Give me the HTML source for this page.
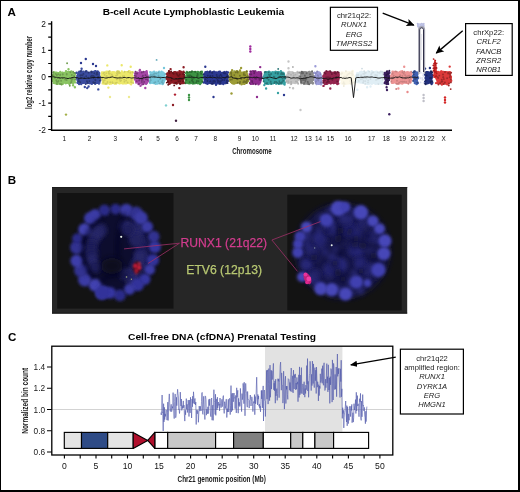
<!DOCTYPE html><html><head><meta charset="utf-8"><title>Figure</title><style>html,body{margin:0;padding:0;background:#fff}svg{display:block}</style></head><body>
<svg width="520" height="492" viewBox="0 0 520 492" font-family="Liberation Sans, Arial, sans-serif">
<defs>
<filter id="b1" x="-50%" y="-50%" width="200%" height="200%"><feGaussianBlur stdDeviation="2"/></filter>
<filter id="b1s" x="-50%" y="-50%" width="200%" height="200%"><feGaussianBlur stdDeviation="1.4"/></filter>
<filter id="b08" x="-50%" y="-50%" width="200%" height="200%"><feGaussianBlur stdDeviation="0.8"/></filter>
<filter id="b2" x="-50%" y="-50%" width="200%" height="200%"><feGaussianBlur stdDeviation="3"/></filter>
<filter id="b05" x="-50%" y="-50%" width="200%" height="200%"><feGaussianBlur stdDeviation="0.6"/></filter>
<filter id="bdot" x="-50%" y="-50%" width="200%" height="200%"><feGaussianBlur stdDeviation="0.35"/></filter>
<marker id="ah" viewBox="0 0 10 10" refX="9" refY="5" markerWidth="7" markerHeight="7" orient="auto-start-reverse" markerUnits="userSpaceOnUse"><path d="M0,0.5 L10,5 L0,9.5 z" fill="#000"/></marker>
<marker id="ah2" viewBox="0 0 10 10" refX="9" refY="5" markerWidth="9" markerHeight="8" orient="auto-start-reverse" markerUnits="userSpaceOnUse"><path d="M0,0.3 L10,5 L0,9.7 L2.2,5 z" fill="#000"/></marker>
</defs>
<rect x="0" y="0" width="520" height="492" fill="#000"/><rect x="1" y="1" width="517" height="489" fill="#fff"/>
<text x="7.6" y="16" font-size="11.6" font-weight="bold">A</text>
<text x="102.7" y="15.2" font-size="9.7" font-weight="bold" textLength="181.5" lengthAdjust="spacingAndGlyphs">B-cell Acute Lymphoblastic Leukemia</text>
<path d="M52 77.7 L53.5 72.2 L55 71.4 L56.5 71.4 L58 72 L59.5 72.1 L61 72 L62.5 71.5 L64 71.9 L65.5 71.2 L67 71.3 L68.5 70.7 L70 70.9 L71.5 72 L73 71.8 L74.5 72.4 L76 77.7 L76 77.7 L74.5 83.6 L73 84.3 L71.5 83.4 L70 83.7 L68.5 83.4 L67 83.9 L65.5 84.6 L64 83.6 L62.5 84.5 L61 83.4 L59.5 83.9 L58 84 L56.5 83.8 L55 83.2 L53.5 83 L52 77.7Z" fill="#8ac462"/>
<path d="M76 77.7 L77.6 71.7 L79.1 71.5 L80.7 72.1 L82.2 71.2 L83.8 71.7 L85.4 71.5 L86.9 71 L88.5 71.8 L90.1 71.4 L91.6 71.1 L93.2 70.7 L94.8 71.5 L96.3 71.9 L97.9 72.2 L99.4 71.6 L101 77.7 L101 77.7 L99.4 83.6 L97.9 84.1 L96.3 83.9 L94.8 84.3 L93.2 83.5 L91.6 83.7 L90.1 84.5 L88.5 84.1 L86.9 84.3 L85.4 83.7 L83.8 84.1 L82.2 83.9 L80.7 83.5 L79.1 83.2 L77.6 83.3 L76 77.7Z" fill="#3a4b9e"/>
<path d="M101 77.7 L102.5 71.6 L104 71.4 L105.5 71.4 L107 71 L108.5 71.5 L110 72 L111.5 71.2 L113 70.9 L114.5 71.6 L116 72.1 L117.5 71.9 L119 72 L120.5 71.9 L122 71.6 L123.5 72 L125 71.3 L126.5 71 L128 71.8 L129.5 71.7 L131 71.1 L132.5 72.6 L134 77.7 L134 77.7 L132.5 82.9 L131 83.2 L129.5 84.4 L128 83.8 L126.5 84.5 L125 84.5 L123.5 83.9 L122 84.5 L120.5 83.6 L119 84.4 L117.5 83.5 L116 83.9 L114.5 84.2 L113 83.7 L111.5 84.7 L110 84.3 L108.5 84.2 L107 84.6 L105.5 83.8 L104 83.8 L102.5 83 L101 77.7Z" fill="#ece86a"/>
<path d="M134 77.7 L135.5 72.1 L137 71.3 L138.5 72.1 L140 71.6 L141.5 70.8 L143 71.4 L144.5 71.2 L146 70.9 L147.5 71.2 L149 77.7 L149 77.7 L147.5 84.1 L146 84.3 L144.5 83.4 L143 84.2 L141.5 84.3 L140 84.1 L138.5 83.9 L137 83.6 L135.5 83.7 L134 77.7Z" fill="#a648a8"/>
<path d="M149 77.7 L150.5 71.9 L152.1 72 L153.6 72 L155.2 71.8 L156.7 71.6 L158.3 72.1 L159.8 72 L161.4 72.1 L162.9 71.3 L164.5 72.1 L166 77.7 L166 77.7 L164.5 83.5 L162.9 83.4 L161.4 84.5 L159.8 83.8 L158.3 83.5 L156.7 83.4 L155.2 83.5 L153.6 83.4 L152.1 84.1 L150.5 83.5 L149 77.7Z" fill="#78c8dc"/>
<path d="M166 77.7 L167.6 72 L169.2 71 L170.8 71.5 L172.3 72 L173.9 71.6 L175.5 70.9 L177.1 72.1 L178.7 71.4 L180.2 71.4 L181.8 71.4 L183.4 71.3 L185 77.7 L185 77.7 L183.4 83.9 L181.8 84.6 L180.2 83.3 L178.7 83.5 L177.1 84.6 L175.5 83.5 L173.9 83.7 L172.3 83.4 L170.8 84 L169.2 84.6 L167.6 83.1 L166 77.7Z" fill="#8c1c24"/>
<path d="M185 77.7 L186.5 72.1 L188 72 L189.5 71.4 L191 71.6 L192.5 71 L194 70.9 L195.5 71 L197 71.8 L198.5 71.6 L200 72.1 L201.5 72.1 L203 77.7 L203 77.7 L201.5 83.9 L200 83.6 L198.5 83.3 L197 84 L195.5 84.3 L194 84.4 L192.5 84.7 L191 83.6 L189.5 84.4 L188 84.3 L186.5 83.4 L185 77.7Z" fill="#3d9444"/>
<path d="M203 77.7 L204.5 71.3 L206.1 71 L207.6 70.8 L209.1 71.8 L210.6 71.8 L212.2 71.2 L213.7 70.9 L215.2 71.2 L216.8 72 L218.3 70.8 L219.8 71.1 L221.4 71.9 L222.9 71.7 L224.4 70.8 L225.9 71.7 L227.5 71.7 L229 77.7 L229 77.7 L227.5 83 L225.9 84.4 L224.4 83.8 L222.9 84.4 L221.4 84.4 L219.8 84 L218.3 84.4 L216.8 84.2 L215.2 84.4 L213.7 84 L212.2 84.6 L210.6 83.6 L209.1 83.6 L207.6 83.7 L206.1 84.5 L204.5 83.4 L203 77.7Z" fill="#2b3890"/>
<path d="M229 77.7 L230.5 72.3 L232.1 70.9 L233.6 71.9 L235.2 70.7 L236.7 71.6 L238.2 71.9 L239.8 70.7 L241.3 71.4 L242.8 71.5 L244.4 71 L245.9 71.9 L247.5 72.2 L249 77.7 L249 77.7 L247.5 83.7 L245.9 83.6 L244.4 83.6 L242.8 84.5 L241.3 84.6 L239.8 84.2 L238.2 83.3 L236.7 84.1 L235.2 84.2 L233.6 84.4 L232.1 84.3 L230.5 83.1 L229 77.7Z" fill="#9c9c36"/>
<path d="M249 77.7 L250.5 72 L252 71.9 L253.5 71.6 L255 71.3 L256.5 71.5 L258 71.4 L259.5 71.4 L261 71.7 L262.5 77.7 L262.5 77.7 L261 83.3 L259.5 83.3 L258 84 L256.5 84.6 L255 84.6 L253.5 83.9 L252 84.5 L250.5 83.7 L249 77.7Z" fill="#8e2c8e"/>
<path d="M262.5 77.7 L264.1 72.6 L265.6 72 L267.2 71.1 L268.8 71.7 L270.3 71.3 L271.9 72 L273.5 71.8 L275 71 L276.6 71.3 L278.2 70.8 L279.7 71.3 L281.3 71.4 L282.9 71.6 L284.4 71.9 L286 77.7 L286 77.7 L284.4 84.1 L282.9 83.9 L281.3 84.2 L279.7 84 L278.2 83.9 L276.6 84.4 L275 84 L273.5 83.7 L271.9 84.1 L270.3 84.4 L268.8 84 L267.2 84 L265.6 83.8 L264.1 83.9 L262.5 77.7Z" fill="#36a0a2"/>
<path d="M286 77.7 L287.6 71.3 L289.2 70.8 L290.9 71.3 L292.5 70.9 L294.1 71.9 L295.8 72 L297.4 72.2 L299 77.7 L299 77.7 L297.4 84.1 L295.8 83.6 L294.1 83.9 L292.5 83.5 L290.9 84.6 L289.2 83.6 L287.6 84.3 L286 77.7Z" fill="#c4c4c4"/>
<path d="M299 77.7 L300.5 71.3 L302 71.9 L303.5 71.2 L305 70.9 L306.5 71.8 L308 71.5 L309.5 70.7 L311 71.9 L312.5 71.7 L314 77.7 L314 77.7 L312.5 83.5 L311 83.9 L309.5 84.5 L308 84 L306.5 84.6 L305 84.7 L303.5 83.5 L302 84.3 L300.5 84.3 L299 77.7Z" fill="#8c8c8c"/>
<path d="M314 77.7 L315.7 71.9 L317.4 71.1 L319.1 71.3 L320.8 72.1 L322.5 77.7 L322.5 77.7 L320.8 83.7 L319.1 83.9 L317.4 83.3 L315.7 83.7 L314 77.7Z" fill="#9c9cd8"/>
<path d="M322.5 77.7 L324.1 71.5 L325.7 72.1 L327.3 71 L328.9 72 L330.5 72 L332 71.7 L333.6 71.5 L335.2 71 L336.8 72 L338.4 71.6 L340 77.7 L340 77.7 L338.4 84 L336.8 84.5 L335.2 83.7 L333.6 84.6 L332 83.5 L330.5 84.4 L328.9 83.7 L327.3 84.7 L325.7 84.6 L324.1 83.7 L322.5 77.7Z" fill="#94244e"/>
<path d="M340 77.7 L341.5 72.3 L343 71.2 L344.5 72 L346 71.2 L347.5 72 L349 72 L350.5 71.5 L352 71.4 L353.5 72 L355 77.7 L355 77.7 L353.5 83.2 L352 84.6 L350.5 83.8 L349 84.5 L347.5 84.5 L346 84.4 L344.5 84.6 L343 83.9 L341.5 83.1 L340 77.7Z" fill="#fcf8e8"/>
<path d="M355 77.7 L356.5 72 L358.1 72.2 L359.6 72.1 L361.1 71.7 L362.6 71 L364.2 71.4 L365.7 71.6 L367.2 71.7 L368.7 71.1 L370.3 71.8 L371.8 70.8 L373.3 71 L374.8 71.4 L376.4 71.6 L377.9 71.2 L379.4 71.7 L380.9 71.4 L382.5 72.2 L384 77.7 L384 77.7 L382.5 83.2 L380.9 83.9 L379.4 84.4 L377.9 84.6 L376.4 84 L374.8 84.5 L373.3 83.9 L371.8 83.4 L370.3 84 L368.7 84.1 L367.2 83.3 L365.7 83.3 L364.2 83.5 L362.6 83.7 L361.1 83.7 L359.6 83.5 L358.1 83.3 L356.5 83 L355 77.7Z" fill="#e0eef5"/>
<path d="M384 77.7 L385.5 72 L387 72 L388.5 71.8 L390 77.7 L390 77.7 L388.5 83.5 L387 84.3 L385.5 83.5 L384 77.7Z" fill="#3c2060"/>
<path d="M390 77.7 L391.5 72.5 L393 71 L394.5 71.7 L396 71.7 L397.5 71.9 L399 71.7 L400.5 70.7 L402 71.8 L403.5 71.7 L405 72.1 L406.5 71.4 L408 71.9 L409.5 72.2 L411 72.5 L412.5 77.7 L412.5 77.7 L411 83.4 L409.5 83.5 L408 84 L406.5 84 L405 83.8 L403.5 83.8 L402 84.7 L400.5 84.1 L399 84.6 L397.5 83.9 L396 83.9 L394.5 83.6 L393 84.1 L391.5 84 L390 77.7Z" fill="#ec9494"/>
<path d="M412.5 77.7 L414 72.1 L415.6 71.7 L417.1 71.3 L418.6 77.7 L418.6 77.7 L417.1 84 L415.6 83.6 L414 83.3 L412.5 77.7Z" fill="#4262b2"/>
<path d="M424.2 77.7 L426 71.1 L427.7 71.1 L429.5 71.6 L431.2 70.8 L433 77.7 L433 77.7 L431.2 83.5 L429.5 83.8 L427.7 84.5 L426 84.2 L424.2 77.7Z" fill="#22307e"/>
<path d="M435.5 77.7 L437 71.4 L438.5 72.1 L440 70.9 L441.5 71.1 L443 71.9 L444.5 71.4 L446 71 L447.5 71.3 L449 71.2 L450.5 72.1 L452 77.7 L452 77.7 L450.5 83 L449 84.2 L447.5 84.5 L446 84.5 L444.5 84.5 L443 84 L441.5 84.4 L440 84.2 L438.5 84.4 L437 83.9 L435.5 77.7Z" fill="#dc3a3a"/>
<path d="M55.6 75.9h0M71.7 78.5h0M66.9 80.1h0M52.7 80.9h0M64.1 78.2h0M54.1 80.6h0M54.3 74.8h0M57.3 80.8h0M63.9 76.1h0M68.2 81.2h0M67.3 72.1h0M58.4 80.9h0M65.5 76.6h0M68.4 80h0M64.4 77.2h0M55.3 82.8h0M74.9 87.3h0M63.1 81.9h0M62.8 74.6h0M74.2 74.2h0M55.8 78h0M55.6 81.8h0M72.8 80.3h0M73.1 85.3h0M62.9 75.1h0M60.4 75.3h0M52.6 80.4h0M55.3 83.2h0M73.2 75h0M61.6 84.3h0M60.8 76.8h0M53.7 72.9h0M59.1 83.4h0M58.7 77.8h0M61.1 83.7h0M71.1 79.4h0M74 78.3h0M53.7 80.5h0M69.8 79.6h0M53.7 82.9h0M63.4 75.6h0M69.4 84h0M67.6 75.1h0M61.6 73.3h0M57.3 83h0M57.6 83h0M62.9 72.9h0M54.7 75.7h0M58.1 74.5h0M72.8 80.9h0M62 78h0M60.3 71.9h0M74.7 73.3h0M67 82.5h0M58.8 74.4h0M62.8 83.7h0M72.5 77.9h0M68.8 82.9h0M66 71.1h0M73.7 81.8h0M74.8 74.8h0M56.1 78h0M74.1 80.4h0M70 77.1h0M53.5 81.1h0M73.6 79.5h0M55.5 74.5h0M68.5 69.2h0M61.4 74.1h0M52.8 75.5h0M74.5 79.4h0M63.4 74.2h0M74.5 80.1h0M53.1 77.7h0M62.2 74.5h0M73.7 76.4h0M60.3 76.7h0M57.1 81.6h0M64.1 73.8h0M59.7 81.9h0M57.6 81.1h0M74.3 77.6h0M57.7 76.6h0M74.2 73.4h0M57.5 83.9h0M53.8 72.3h0M73.1 82.6h0M75.3 82.3h0M56.8 83.4h0M53.3 79.6h0M61.1 75.5h0M52.7 75.3h0M74.4 73.2h0M57.3 75.8h0M71.3 71.5h0M73.6 73.8h0" stroke="#8ac462" stroke-width="2.4" stroke-linecap="round" fill="none"/>
<path d="M73.1 71.7h0M71.1 78.7h0M53.4 72.5h0M58.5 81h0M60.3 74.7h0M66.7 74.6h0M59.8 78.2h0M67.1 63.2h0M57.9 77.4h0M74.3 76.3h0M62.4 77.6h0M56.8 81.7h0M71.4 81.3h0M60.1 75.3h0M70.4 72.2h0M69.8 85.8h0M60 84h0M75.1 79.4h0M54.8 77.7h0M62.8 74.2h0M66.7 80h0M71.9 79.8h0M71.8 75h0M61.1 80.8h0M58.2 74.3h0M72.8 78.7h0M61.6 84.2h0M57.9 81.8h0M75.2 73.3h0M71.3 82.2h0M53.5 75.2h0M56.9 83.9h0M73.8 76.1h0M62.8 74.5h0M74.2 72.9h0M66.7 74h0M55.8 73.9h0M66.3 79.7h0M52.9 75.8h0M56.8 75.2h0M70.7 82.9h0M65.1 79.5h0M56.3 80.2h0" stroke="#6e9c4e" stroke-width="1.9" stroke-linecap="round" fill="none"/>
<path d="M83.3 75.2h0M84 78.6h0M86.5 82.5h0M85.3 73.7h0M81.4 71.2h0M86.7 81.9h0M97.6 77.2h0M77 78.3h0M98.3 72.5h0M85.4 77.8h0M83.3 78h0M79.2 77.6h0M99.6 81.6h0M99 83.5h0M77.9 82.9h0M98.1 79.2h0M80.4 81.4h0M86.2 82.3h0M81 74h0M88.9 77.9h0M98 71.8h0M94.6 71.6h0M79.4 79h0M91.5 75.1h0M90.5 76.7h0M87.2 88.1h0M91.3 77.6h0M94.8 81.4h0M80.9 82.5h0M78.8 77h0M77.6 82.7h0M94.1 81.4h0M77.9 77.7h0M99.2 73.3h0M100.3 80.2h0M81.2 84h0M99.4 82.7h0M95.4 71.2h0M80.4 82.9h0M96 73h0M98.5 74h0M88.6 86.5h0M80.9 73.3h0M92.8 82.9h0M95.3 72.6h0M91.7 75.8h0M89.8 78.8h0M79.1 84h0M86 81.6h0M100.2 78.6h0M94.8 76.9h0M94.3 71.7h0M82.6 79.5h0M90.5 79.9h0M76.6 72.7h0M91.3 76.8h0M97.9 73h0M92.1 75.8h0M85.1 74.1h0M90.6 73.8h0M87.9 72.9h0M82.4 80.1h0M91.8 82.6h0M86.2 72.6h0M84.9 79.6h0M98.9 80.6h0M98.1 71.9h0M86.3 71.1h0M95.1 71.3h0M99 73.3h0M91.1 77.8h0M96 73.4h0M83.7 71.7h0M95.2 83.7h0M87.7 80.9h0M82 72.5h0M77.5 75.7h0M93.1 82.3h0M82.9 78.4h0M95.4 78h0M91.9 83.8h0M97.5 71.5h0M82.2 80.9h0M94.4 75.4h0M84.4 74.3h0M91.6 80.2h0M99.9 77.4h0M93.2 82.4h0M93.8 78.6h0M81.6 68.8h0M98.3 89.4h0M84.8 87h0M77.6 80h0M93.2 72.5h0M96.1 81.9h0M78.2 82.3h0M99.1 72.9h0M79.3 71.7h0M95.9 79.5h0M91.6 74.4h0" stroke="#3a4b9e" stroke-width="2.4" stroke-linecap="round" fill="none"/>
<path d="M78.9 81h0M84.2 77.5h0M93.6 76h0M99.5 77.7h0M91.3 71.5h0M87 81.3h0M93.4 78.2h0M97.1 72.4h0M80.7 71.2h0M94.7 83h0M88.3 77.6h0M81 77.6h0M96.4 74.6h0M83.4 73.9h0M88.5 72.6h0M78.5 81.3h0M95.3 79.4h0M86.2 76.3h0M78.7 79.1h0M98 77.7h0M97.6 74.3h0M89.3 81.1h0M92 75.7h0M80.3 82.2h0M94.3 73.3h0M95 82.6h0M87.6 82.8h0M81.2 75.1h0M96.7 73.2h0M82.5 75.4h0M80.4 75.5h0M99.8 80.6h0M85.7 84.1h0M94.1 76.8h0M91.8 72.5h0M85.8 71.5h0M95.4 80.2h0M91.7 77.2h0M91 76.4h0M98.2 76.8h0M94.4 76.7h0M93.8 82.7h0M93.3 82.3h0M91.9 77.1h0M91.6 72.4h0" stroke="#293671" stroke-width="1.9" stroke-linecap="round" fill="none"/>
<path d="M126.5 80.5h0M109.6 76.7h0M121.4 76.5h0M131.2 73.8h0M126.3 76.2h0M132.6 72.4h0M106.7 81.4h0M118.1 72.4h0M118.8 80.6h0M121.9 82h0M114.6 83.6h0M123.4 76.3h0M105.5 83.9h0M103.4 75h0M102 76.8h0M123.8 75.7h0M108.7 80.9h0M118.4 74h0M114.1 73.9h0M126.3 81.8h0M116.5 78.5h0M132.3 76h0M127.6 81.8h0M111 78.3h0M128.1 75.8h0M110.1 76.1h0M115.2 77h0M124.6 74.8h0M111.2 77.4h0M121.9 79.8h0M131.1 84.3h0M126.5 73h0M121.7 65.2h0M131.9 79.6h0M104.8 73.2h0M126.3 75.7h0M130.3 81.4h0M129.9 79.1h0M122.9 82.9h0M128.3 73.8h0M118.5 80.9h0M129.7 78.4h0M109 73h0M103.5 77.3h0M117.2 77.7h0M129 71.3h0M116.5 78.5h0M128.3 76.1h0M132.1 72.7h0M121.8 71.5h0M123.3 83.4h0M132.8 77.8h0M130.1 71.8h0M121.5 75.6h0M113.2 77.4h0M126.1 73.9h0M115 78.4h0M110.9 82h0M117.6 74.7h0M132.6 79.5h0M112.1 75.3h0M120.2 79.5h0M102.9 80.3h0M118.9 71.8h0M101.8 74.4h0M121 79.8h0M130.5 79.1h0M121.5 80.3h0M123.3 73.9h0M116.2 81.2h0M107.4 71.6h0M130.7 79.7h0M127.8 81.4h0M109.8 75.1h0M111.7 76.8h0M131.3 72.2h0M102.9 73.2h0M119.9 83.2h0M102 76.5h0M131.4 83.6h0M114.7 72.4h0M108.4 87.6h0M105.5 78h0M129.3 76.8h0M124.9 72.9h0M126.2 80.5h0M124.8 72.2h0M124.2 77.2h0M109.7 83.8h0M102 72.5h0M127.6 72.2h0M124.8 73.3h0M117.1 71.9h0M119.9 76.9h0M106.2 81.6h0M122.1 79.4h0M113.9 81.5h0M126.6 78.6h0M103.5 83.5h0M127.9 75.5h0M132.7 81.4h0M111.4 76.8h0M113.6 80.1h0M130.1 81.6h0M101.7 75.3h0M120.3 81.9h0M102.9 81.7h0M129.2 78.6h0M128.7 81.7h0M130.7 66.7h0M108 81h0M109 79.1h0M116.4 73.8h0M125.5 81.5h0M104.4 81.6h0M109 78.7h0M129.7 78h0M120.3 73.6h0M107.3 80.3h0M119.5 76.4h0M106.3 71.8h0M113.5 72.5h0M126.6 73.2h0M112.6 73.9h0M102.7 83.4h0M117.1 78.6h0M126.4 76.7h0M126 81.9h0M109.7 71.6h0M107.3 65.4h0M116.2 83.6h0M103.6 78.9h0" stroke="#ece86a" stroke-width="2.4" stroke-linecap="round" fill="none"/>
<path d="M105.4 83.6h0M119.6 79.6h0M122.9 76.3h0M106.7 83.8h0M108.7 71.6h0M112.8 83h0M128.2 71.8h0M124.2 79.6h0M103.4 73.4h0M131.5 79.9h0M120.4 81.1h0M111.9 74.5h0M116.9 73.3h0M106.2 73.1h0M124.4 81.8h0M131.3 82.2h0M106 77h0M131.1 81.9h0M116 75.6h0M116.8 79.4h0M108.6 71.9h0M119.2 73h0M110.1 76.5h0M110.2 82.2h0M106.9 77.6h0M130.3 72.8h0M103.4 82.5h0M108.3 77.4h0M109.8 73.8h0M133.1 83h0M104.7 75h0M103.4 80.5h0M132.7 72.3h0M112.4 75.7h0M128.1 78h0M115.4 83.1h0M119.8 72.9h0M126.1 80.5h0M104.1 72.5h0M117.4 74.7h0M121.1 80.4h0M120.1 77h0M124.5 71.8h0M112.3 82.2h0M117.3 71.3h0M116.8 82.6h0M107.5 82h0M106.8 76h0M101.7 77.9h0M118 72.7h0M127.6 82.5h0M124.2 76.1h0M103.5 82.3h0M117.3 77.9h0M118.7 71.4h0M108.7 73.5h0M109.6 71.1h0M104.7 80.2h0M102.2 78.8h0" stroke="#cfcc5d" stroke-width="1.9" stroke-linecap="round" fill="none"/>
<path d="M141.8 80.4h0M146.6 83.1h0M141.5 74.8h0M140.2 72.9h0M146.5 73.1h0M144.9 73.3h0M147.5 76.3h0M146.2 78h0M147.6 81.2h0M137.9 75.5h0M148.1 81.3h0M145.8 83h0M141.7 83.7h0M138 76.7h0M139.6 70.7h0M134.9 73.4h0M145.3 83.5h0M145.8 82.7h0M135.1 79.4h0M144 74.7h0M147.4 79.2h0M141.8 76.8h0M138.6 75.1h0M136.3 78.9h0M141.7 74.6h0M142 73.1h0M136.4 75h0M138.6 80.8h0M142.1 82.2h0M142.5 79.7h0M144.4 77.2h0M143.1 77.3h0M137.9 74h0M139.9 69.9h0M137.9 78.4h0M138.5 84.1h0M145.3 88h0M146.6 72.4h0M144.7 72.5h0M147.8 80.6h0M139.3 75.8h0M143.1 82.3h0M141.7 80.9h0M145.1 77.4h0M144.4 83.2h0M146.6 71.3h0M142.7 77.7h0M142.5 76.6h0M146.6 79.1h0M140.8 77.1h0M138.6 76.3h0M139.9 75.4h0M146.3 77.7h0M137.1 75.1h0M142.5 82.2h0M147.3 75.5h0M146.2 83.7h0M140.5 85.7h0M141.5 83.2h0M142 84.3h0" stroke="#a648a8" stroke-width="2.4" stroke-linecap="round" fill="none"/>
<path d="M141.7 80.1h0M139.5 79h0M147.7 79.9h0M136 76.1h0M142.3 78.7h0M147.9 77.5h0M143.2 84.2h0M141.9 81.9h0M139 84h0M141.7 72.6h0M144.1 81.9h0M146.9 76.7h0M138.6 77.9h0M137.2 73.5h0M142.9 75.8h0M143.4 71.7h0M145.5 75.2h0M134.7 75.5h0M142.7 79.9h0M141.5 78.4h0M143.5 78.1h0M142.5 76.5h0M136.8 81.1h0M136 73.5h0M146 79.2h0M135.5 71.6h0M139.1 80.5h0" stroke="#773378" stroke-width="1.9" stroke-linecap="round" fill="none"/>
<path d="M152.3 74.6h0M163.9 78.8h0M156.7 80.2h0M163.7 78.8h0M156.5 79.3h0M150.3 83h0M154.6 83h0M154.4 79.1h0M157.4 83.6h0M155.8 80.6h0M154.5 82.7h0M162.1 74.3h0M155.3 73.6h0M154.2 78.5h0M158 76.2h0M150.6 73h0M155.1 74.3h0M154.1 74.7h0M152.1 80.4h0M153.9 82.1h0M156.6 82.1h0M152.1 75.8h0M155.6 83.8h0M164.6 77.8h0M156.8 72.8h0M153.7 83h0M155.4 74.4h0M153 82.6h0M157.7 78.3h0M161.8 76.2h0M158.6 75.2h0M151 73.6h0M154.7 79.8h0M158.5 75.9h0M154.3 72h0M153.2 72.8h0M154.1 76.4h0M161.8 82.7h0M151.7 72.6h0M160.3 79.9h0M156.1 79.8h0M153.5 82.3h0M159.5 73.5h0M164 80.7h0M150.2 72.1h0M152.7 75.1h0M150.2 75.4h0M152.4 82.1h0M160.9 74.5h0M160.4 83.4h0M154.1 71.7h0M159.2 71.7h0M151.4 81.4h0M164 68h0M160.6 76.3h0M162.7 84.1h0M164.3 80.1h0M162.7 79.4h0M150.5 80.2h0M157.7 83.4h0M161.6 71.7h0M162.3 74.6h0M164.9 79.3h0M153.5 71.9h0M156.1 73.8h0M151.8 80.4h0M153.4 74.3h0M156.6 83.5h0" stroke="#78c8dc" stroke-width="2.4" stroke-linecap="round" fill="none"/>
<path d="M154.3 82.8h0M158.5 75.5h0M158.3 81.1h0M160.1 79h0M161.7 82.1h0M154.2 75.9h0M150.6 75h0M160.7 77h0M154.7 77.3h0M152.3 75.4h0M165.3 74h0M158.5 72.5h0M156.5 73.6h0M149.7 82.5h0M159.5 83.4h0M153.6 74.4h0M150 81h0M154.3 73.6h0M163 83.3h0M162 82h0M154.8 73.5h0M154.7 76h0M155.4 82.1h0M150.3 78.5h0M162.6 80.4h0M164.5 77.6h0M152.1 75.1h0M150.9 80.1h0M156.6 59.9h0M150.2 77h0" stroke="#66aabb" stroke-width="1.9" stroke-linecap="round" fill="none"/>
<path d="M179.5 71.1h0M181.8 81.4h0M171.6 79.8h0M174.1 75.6h0M178.5 82h0M169.5 75h0M176.6 75.7h0M168.1 75.5h0M183.9 82.5h0M183.9 83.1h0M181 71.9h0M177.4 75h0M183.6 77.5h0M171.9 75.6h0M167.1 74h0M174.6 72.2h0M173.2 78.8h0M176 78.6h0M168.6 73.6h0M176.4 72.6h0M171.1 72.4h0M171.1 77.6h0M170.6 69.1h0M168 77h0M174.4 82.5h0M179.3 88.1h0M168.4 81.9h0M169.6 83.7h0M180.4 72.9h0M167.6 74.4h0M166.9 78.8h0M171.9 80.4h0M182.4 79.3h0M176.6 83.2h0M169.6 80.9h0M180.2 80.1h0M168.8 76.1h0M183.5 77.1h0M177.3 72.4h0M180.9 72.6h0M178.6 74.5h0M174.6 82.2h0M168.6 79h0M176.5 74.9h0M173.4 73h0M176.2 80.2h0M183.5 71.7h0M169.3 77.7h0M180.8 71.6h0M181.2 80.1h0M175.1 73.2h0M173.6 82.6h0M168 75.6h0M182.5 73.7h0M169.6 75.9h0M176.9 76.2h0M166.7 78.6h0M167 77.2h0M167.4 73.4h0M171.5 74.7h0M171.3 78.6h0M183.6 67.3h0M182.1 81.2h0M177.9 75.9h0M180.8 82.6h0M178.7 75.1h0M179.8 77.8h0M172.8 78.4h0M167.7 75.7h0M184.2 77.5h0M170.9 74.2h0M169 71.3h0M174.7 77h0M172 73.6h0M172 75.2h0M176.4 83.5h0" stroke="#8c1c24" stroke-width="2.4" stroke-linecap="round" fill="none"/>
<path d="M183 81.4h0M184.2 76.1h0M174.2 85.4h0M175.2 83h0M171.2 71.4h0M171.4 80.4h0M173.7 73.7h0M182 79.6h0M179.7 83.8h0M168 81.6h0M172.7 72.9h0M176.2 82.7h0M183 74.1h0M179.9 79.7h0M178.7 76h0M177.7 75.5h0M177.2 74.5h0M166.8 82.6h0M184.2 72.6h0M179.5 78.7h0M169.4 73h0M168.2 81.7h0M176.2 78.9h0M178.3 79h0M179.8 74.5h0M180.2 81.3h0M180.4 84h0M171.6 78h0M168.9 71.3h0M178.3 81.3h0M184.2 74.6h0M168.2 84.8h0M176.5 73.5h0M173.1 73.1h0" stroke="#641419" stroke-width="1.9" stroke-linecap="round" fill="none"/>
<path d="M198 83.3h0M186.1 81h0M202.1 77.7h0M191.4 81.7h0M191 83h0M197.9 72h0M192.4 80.5h0M195.1 76.5h0M201.5 79.3h0M189.8 74.6h0M189.5 73.8h0M196.4 75h0M189.2 78.6h0M200.1 82.5h0M198.2 82h0M191.2 77.5h0M188.3 80.1h0M193.2 78.7h0M189.1 82.7h0M198.7 82.5h0M200.1 84.1h0M186 73.1h0M185.8 82.4h0M198 72.4h0M197.1 72.3h0M201 80.4h0M202.1 72.2h0M198.9 73h0M192.8 77.6h0M202.2 75.6h0M187.6 77.5h0M192.8 73.5h0M188.1 80.8h0M187.5 75.8h0M201 75.8h0M201.9 82.3h0M190.2 73.4h0M186.8 72h0M192.5 78.4h0M185.8 79.8h0M194.7 78.3h0M202.1 82h0M192.3 75.3h0M201.9 76.4h0M192.5 73h0M185.7 78.9h0M189.9 79.2h0M189.6 73.7h0M199.8 81.4h0M186.4 80.1h0M196.5 78.3h0M201.9 71.8h0M199.9 77.8h0M202.3 74.7h0M198.1 76.1h0M192.2 78h0M197 75.4h0M194.7 74h0M190.1 83.1h0M197.7 78h0M189.3 73h0M194.5 78h0M199.3 74.3h0M199.4 77.2h0M199.5 82.9h0M186.3 76.3h0M199.3 72.8h0M189.8 72.5h0M199.1 78h0M187.1 76.4h0M197.3 77h0M199 81.1h0" stroke="#3d9444" stroke-width="2.4" stroke-linecap="round" fill="none"/>
<path d="M197 75.9h0M189.6 76h0M192 71.3h0M195.2 71.9h0M197.7 74.7h0M189.7 82.1h0M196.3 82.4h0M192.7 81.6h0M191.8 71.7h0M191.8 80.5h0M192.5 79.7h0M191.5 76.2h0M201.1 73.8h0M197.6 76h0M191.1 72h0M192 78h0M200.7 71.7h0M193.4 82.2h0M193.6 82.9h0M193.9 77.9h0M196.9 80.9h0M186.3 79.9h0M198.5 81.3h0M189.3 72.1h0M187.3 72.4h0M195.1 71.8h0M197.5 73.7h0M197.2 76.6h0M202.4 81.2h0M188 75.5h0M185.7 83.2h0M190 75.2h0" stroke="#2b6a30" stroke-width="1.9" stroke-linecap="round" fill="none"/>
<path d="M224.9 78.4h0M214 71.8h0M225.1 81.6h0M210 71.6h0M215.1 77.6h0M212.7 81.7h0M226.4 76.3h0M211.4 78.1h0M217.6 75.4h0M223.3 75h0M223.5 78.9h0M226.8 77h0M205 76.9h0M204.8 74.3h0M226.5 78.5h0M216 80h0M210.9 73.9h0M207.2 83.1h0M206.1 72.5h0M227.2 76.7h0M210 83h0M207.4 71.9h0M204.6 81.7h0M209.4 78.8h0M217.5 73.1h0M211.6 82.2h0M223.4 84h0M204.4 76.3h0M209.1 75.4h0M215.1 80.7h0M220.4 72.6h0M206.6 83.1h0M226.9 78h0M212.2 81h0M226.7 72.6h0M225 79h0M205.8 73.2h0M225.7 82.1h0M226.5 71.9h0M227.6 75.9h0M219.9 71.8h0M214.8 74.4h0M208 81.5h0M205.3 66.8h0M218.4 74.1h0M216.3 72.4h0M206.9 78.7h0M212.9 79.9h0M207.8 83.5h0M224.5 82.6h0M207.3 72.4h0M206.5 77.7h0M206.5 77.3h0M216.9 77.8h0M208.5 76.4h0M206.8 74.3h0M216 84.8h0M223.2 78.6h0M209.3 81h0M210.2 71.5h0M216.4 75h0M205.7 78.7h0M218.4 81.4h0M205.1 74.6h0M228 72.5h0M220.8 81.9h0M223.7 77.2h0M203.9 82.6h0M213.7 72.3h0M221.8 80.1h0M212.1 73h0M209 75.5h0M228.3 80.8h0M215.9 81.4h0M222.2 79.5h0M219.1 82.3h0M205.9 80.5h0M207.6 83.8h0M222.1 72.9h0M226.8 82.7h0M224.2 81.6h0M214.4 82h0M225.2 75.1h0M216.8 75.1h0M227.6 81.1h0M224.4 74.2h0M215 74.2h0M226.1 80h0M213.3 81.4h0M220.5 83.5h0M213.7 72.2h0M224.3 75.6h0M224.3 76.5h0M206.3 81.7h0M218.6 77.1h0M208.9 75.8h0M219 77.8h0M210.3 80.4h0M220 76.9h0M224 73.6h0M227.4 76.1h0M225.7 79.1h0M213.4 77.7h0M216.2 84.1h0" stroke="#2b3890" stroke-width="2.4" stroke-linecap="round" fill="none"/>
<path d="M224.2 73.3h0M203.6 74.3h0M214.9 81.8h0M212.3 72.4h0M225 77.9h0M226.6 82.6h0M205.5 79.2h0M227.4 76h0M219.3 76.1h0M220.4 83.1h0M212.6 76h0M224.3 80.1h0M214.7 81h0M221.7 76.1h0M227.2 82.4h0M218.2 80.8h0M213.3 81h0M210.6 81.2h0M217.1 76.7h0M219.7 81.7h0M213 83.8h0M220.7 74.8h0M217.9 82h0M212.2 72.9h0M225.4 73.4h0M207.8 75.8h0M227.6 83.1h0M211.3 83.6h0M211.6 83.8h0M210.1 76.3h0M227.5 74.9h0M226.1 77.1h0M219.4 81.4h0M207.4 81h0M217.5 80h0M210.4 75.9h0M216.7 74.9h0M210 81.6h0M212.4 83.5h0M209.6 72h0M222.3 80h0M223.6 72.6h0M219.6 83.9h0M220.8 81.3h0M226.9 80.7h0M213.3 81.7h0" stroke="#1e2867" stroke-width="1.9" stroke-linecap="round" fill="none"/>
<path d="M233.1 82.6h0M239.4 79.9h0M232.1 70.3h0M237.4 77.7h0M242.2 78.7h0M240.4 74.7h0M244.4 82.1h0M242.2 81.1h0M246.5 82.8h0M245 79.6h0M232.1 80.3h0M241.1 68h0M234.7 73.9h0M231.4 79.9h0M244.7 75.9h0M231 81.9h0M229.7 79.1h0M234.8 71.9h0M240 70.4h0M245.2 72.6h0M241.4 75.6h0M240.3 74h0M233.5 82.2h0M239.7 71.5h0M230.1 77.8h0M230.8 79.3h0M240.6 76.4h0M240.7 74.1h0M248.3 81.1h0M235.8 74.3h0M238.1 80.1h0M238.1 75.6h0M237.2 74.8h0M243.4 77.9h0M233.3 80.4h0M234.6 78.5h0M247.9 80.6h0M246.9 80.5h0M230.8 78.2h0M245.8 80.6h0M234.6 75.8h0M241.5 84.2h0M230.4 73.8h0M246.5 81.6h0M231.5 72.7h0M244.2 77.3h0M246.7 81.4h0M245.1 72.8h0M240.2 77.8h0M234.3 71.4h0M243 83.6h0M237.8 80.8h0M244.9 82.2h0M229.8 74.4h0M236.7 71.2h0M244.4 83.9h0M230.9 75.5h0M246.2 77.5h0M233.5 74.3h0M236.8 72.5h0M232 73.8h0M240.6 79.5h0M237.9 72h0M230.6 77.3h0M242.3 80.5h0M241.8 80.2h0M232.3 83h0M230.8 74.5h0M233.9 76.3h0M245.1 79.5h0M230.3 72.8h0M244.7 72.5h0M234.1 83.4h0M242.2 83.4h0M246.9 74.7h0M229.9 80.7h0M247.9 80.2h0M244.8 73.3h0M231.6 81.4h0M246.8 71.4h0" stroke="#9c9c36" stroke-width="2.4" stroke-linecap="round" fill="none"/>
<path d="M240.1 81.9h0M241.3 78.9h0M231.1 72.1h0M235.1 77.7h0M245.2 81.8h0M231.9 79.6h0M237.7 72.6h0M239.9 75.8h0M243.3 82.3h0M231.5 76h0M243.9 73.1h0M248 76.3h0M231 72.9h0M240.9 78h0M237.3 79.2h0M246.8 80.6h0M246.8 82h0M230.2 79.8h0M237.7 82.7h0M247.3 77h0M234.3 75.1h0M235.7 72.4h0M248 79.5h0M243.9 82.1h0M243.8 74.7h0M237.4 71.4h0M246.3 83.1h0M244.1 81.3h0M244.5 78.1h0M245.1 75.3h0M236.5 78.2h0M232.6 78.1h0M239.7 83.5h0M246.8 80.1h0M231.3 74.1h0M246.6 71.5h0" stroke="#707026" stroke-width="1.9" stroke-linecap="round" fill="none"/>
<path d="M258.4 84.2h0M255 80.2h0M258.8 81h0M252.8 71.5h0M252.2 74.5h0M257.5 78.9h0M257 80.3h0M250.4 75.4h0M251 77.6h0M258.1 74.7h0M251.8 72.5h0M254.6 80.2h0M258.6 72.4h0M253.8 80.5h0M259.8 74.1h0M259.5 79.9h0M249.7 74.1h0M251.5 79.8h0M257.7 73.5h0M250.8 83.9h0M257.6 78.6h0M250.4 71.6h0M251.2 83.7h0M258.5 72.9h0M252.7 75.9h0M251 74.5h0M253.1 76.1h0M252.4 73.7h0M254.3 75.9h0M255.4 71.3h0M252.5 71.5h0M251 77.2h0M250.8 72.8h0M251.7 74.2h0M251.1 72.1h0M255.4 83.5h0M250.5 74.2h0M256.5 82.6h0M260.2 72.6h0M256.1 74.3h0M260.2 67.1h0M252.9 83.3h0M258.6 72.1h0M253.5 73.8h0M254 72.7h0M255.5 73.2h0M249.9 77.3h0M256.2 74.2h0M257 79.7h0M259.5 83.6h0M260.1 76h0M251.8 74.1h0M260.7 72.3h0M250 77h0" stroke="#8e2c8e" stroke-width="2.4" stroke-linecap="round" fill="none"/>
<path d="M252 81h0M261.2 76.5h0M249.8 83h0M255.5 77.9h0M255.7 84.2h0M252.3 82.1h0M261.9 77.2h0M261.4 75.5h0M253.8 71.3h0M254.2 73.2h0M249.6 78.9h0M255.2 78.5h0M251.3 74.3h0M261.4 73.4h0M256 78.8h0M250.3 74.4h0M256.8 77.1h0M260.5 79.8h0M261.4 74.8h0M254.6 71.8h0M250.9 71.5h0M253.2 83.9h0M254.8 78.1h0M259.5 79.7h0" stroke="#661f66" stroke-width="1.9" stroke-linecap="round" fill="none"/>
<path d="M265.7 74.4h0M276.2 81.7h0M284.6 84.5h0M267.1 80.2h0M268.4 75.9h0M278.2 72.1h0M277 77.3h0M280.9 71.3h0M278.2 80.5h0M267.1 83.7h0M268.3 76.8h0M267.7 76.5h0M283.2 74.3h0M271.1 79.9h0M265.9 74.1h0M269 71.6h0M272.2 72.6h0M276.1 83.5h0M271 80.4h0M267 76h0M271.3 83.8h0M281.7 79.6h0M278.8 83.9h0M280.2 75.1h0M281.4 79h0M282.6 78.8h0M263.4 78.1h0M269.2 74.3h0M267 78.3h0M279 82.8h0M265.6 83.3h0M266.4 75.6h0M270.2 76.6h0M268.9 79.2h0M277 80.3h0M280.8 80.7h0M274.1 73.6h0M275.6 71.8h0M278.5 76.2h0M268.2 81.6h0M265.2 78.8h0M278.9 81.7h0M268.3 72.3h0M275.7 72.9h0M276.1 72.5h0M268.5 74.5h0M275 80.1h0M279.3 74h0M277.4 80.2h0M283.2 73.9h0M277.9 74.5h0M268.1 81.3h0M279.1 83.8h0M270 75.3h0M264.3 85.1h0M266.5 83.3h0M273.4 73.7h0M274.4 78h0M279.1 78.1h0M265.5 72.2h0M273.9 74.4h0M268 75.3h0M279 81.3h0M273.1 83.3h0M276.9 72.5h0M277.3 80.1h0M285 82.4h0M273.5 79.3h0M264.6 80.8h0M272.9 72.2h0M265.2 75.1h0M266.1 88.5h0M266.8 78.1h0M266.9 73.4h0M272.6 75.6h0M268.5 83.9h0M268.9 80.9h0M283.3 77.4h0M276.6 74.9h0M279.1 80.8h0M267.4 83.7h0M281.2 75.6h0M268.8 77.3h0M266.4 82.3h0M267 80.9h0M267.3 76.6h0M282.3 78.4h0M283.2 83.5h0M282 81.8h0M271.3 76h0M271.5 72.6h0M283.4 76.6h0M282.9 81h0M283.6 81.5h0" stroke="#36a0a2" stroke-width="2.4" stroke-linecap="round" fill="none"/>
<path d="M279.3 81.1h0M268.7 79.8h0M281.8 72.9h0M270.6 81.9h0M281.9 82.2h0M266.2 83.4h0M278.2 68.9h0M282.5 78.3h0M270.7 81.4h0M282.5 74h0M268.7 72.4h0M263.7 81.2h0M264.7 72.3h0M267.5 77.2h0M281 83.7h0M277.2 82.9h0M283.2 80.7h0M282.6 78.6h0M276.2 82h0M273.9 76.6h0M277.9 73.8h0M271.2 83.8h0M265.9 71.9h0M279.1 76.8h0M274.8 81.9h0M271.1 74h0M281 74h0M285.2 77h0M278.9 83.4h0M269.8 75.4h0M267.3 78.3h0M278 73h0M285.4 78.3h0M267.2 83.1h0M280 82.6h0M283.7 74h0M274.3 83h0M284.4 77.8h0M275.6 73h0M281 76.7h0M268.9 74.7h0M274.5 77.3h0" stroke="#267374" stroke-width="1.9" stroke-linecap="round" fill="none"/>
<path d="M286.7 75.8h0M295.4 74.2h0M292.7 73.4h0M297.3 73.9h0M295.1 81h0M295 74.7h0M297.5 72h0M291.8 80.5h0M288.3 77.2h0M298.4 75.8h0M289.5 73.7h0M291.4 79.3h0M288.5 68.3h0M288.9 75.3h0M288.8 77.4h0M298.1 77.5h0M292.2 73.7h0M288.3 72.6h0M291.4 75.8h0M290.8 80.2h0M288.4 82.5h0M286.7 81.8h0M290.8 79.4h0M291.3 76.8h0M293.1 79.8h0M297.8 73.3h0M296.6 81.5h0M294.6 75.6h0M293.1 76.4h0M288 82.8h0M286.9 75.6h0M292.4 75.9h0M290.7 78.1h0M294.1 77.4h0M291.2 79.1h0M289.7 76h0M290.9 83.2h0M289.9 75.5h0M288.5 61.5h0M288.9 71.9h0M288.3 76.8h0M295.1 83.1h0M293.1 88.2h0M297.5 76.9h0M295.4 82.4h0M287.7 82.5h0M293.6 80.8h0M286.9 80.2h0M287.9 73.3h0M293.8 80h0M290.9 84h0M291.2 74.4h0" stroke="#c4c4c4" stroke-width="2.4" stroke-linecap="round" fill="none"/>
<path d="M298.1 83.7h0M288.7 73.5h0M290.7 78.9h0M292.9 67h0M293.4 77.1h0M293.7 75.5h0M297.7 82.2h0M293.2 73h0M291.1 82h0M296.1 81.5h0M286.7 81.2h0M294.5 78.6h0M291.4 83.8h0M297.6 79.2h0M291 74.7h0M295.9 81.5h0M298.3 79.9h0M295.5 74.6h0M288.5 82.4h0M289.8 87.6h0M288.4 81.1h0M297.3 78.8h0M297.6 72.5h0" stroke="#b0b0b0" stroke-width="1.9" stroke-linecap="round" fill="none"/>
<path d="M301 74.8h0M311.6 76.9h0M303.1 80.7h0M300.9 77.6h0M302.6 79.7h0M304.7 83.2h0M313.4 76.9h0M310.8 81.1h0M311.5 76.4h0M306.1 72.7h0M301.6 73.1h0M313.2 78.2h0M301.4 79.5h0M303 75h0M311.3 78.1h0M306 77.3h0M309.7 75.6h0M302.2 72.9h0M301.3 73.6h0M304.2 73.3h0M306.1 81.5h0M312.2 74.1h0M308.1 83.9h0M308.3 78.1h0M305.7 72.4h0M310.7 80.1h0M302.8 77.2h0M312.9 82.9h0M309 78.4h0M301.9 73h0M306.4 74.6h0M307.2 81.2h0M301.8 82.7h0M312.8 83.6h0M307.6 83.9h0M307.2 78.6h0M303.5 79.4h0M312.7 80h0M312.7 79.4h0M311.5 79.9h0M307.9 75.1h0M303 80.9h0M299.7 78.3h0M306.6 72.7h0M308.8 80.1h0M313.3 79.8h0M299.6 72.6h0M313 75.4h0M299.7 76.7h0M307.7 78.9h0M311.1 72.5h0M303.3 82.7h0M304.1 83.9h0M309.2 72h0M313.1 73.1h0M303.3 73.1h0M308.7 83.7h0M313.3 79.1h0M301.8 80.7h0M304.6 83h0" stroke="#8c8c8c" stroke-width="2.4" stroke-linecap="round" fill="none"/>
<path d="M301.6 73.3h0M307.7 81.7h0M306.5 78.7h0M305.3 81.6h0M300.4 76.7h0M310 74.3h0M302.9 72.3h0M304.9 75.5h0M302.7 79.9h0M305.8 77.7h0M307.9 82.8h0M300.8 79.6h0M303.9 77.9h0M303 73.2h0M304.1 83.1h0M305.5 80.6h0M301.3 82.2h0M301.8 71.8h0M301 80.8h0M306.6 73.3h0M305.6 79.8h0M312.1 71.3h0M305.1 77.4h0M309.1 84.2h0M303.3 80h0M305.1 80.2h0M301.7 72.1h0" stroke="#646464" stroke-width="1.9" stroke-linecap="round" fill="none"/>
<path d="M321.8 82.8h0M318.3 77.5h0M319.5 77.6h0M316.7 83.4h0M318.1 73h0M315.5 80.1h0M318.8 75.2h0M315.4 66.3h0M318.9 80.6h0M319.7 75.9h0M316.6 84h0M314.6 72.7h0M320.9 79.5h0M321 80.5h0M317.4 83.6h0M321 84.2h0M321.2 81.4h0M318.9 83.9h0M321.5 78.5h0M318.4 77.5h0M317.3 77.8h0M316.2 74.8h0M318.3 76.6h0M316 78.1h0M320.2 80.4h0M318.4 74.4h0M318.3 76.1h0M317.5 80.5h0M318.1 80.8h0M317.9 75.8h0M317.2 81.1h0M316.1 74.2h0M319.4 80h0M319.7 79.3h0" stroke="#9c9cd8" stroke-width="2.4" stroke-linecap="round" fill="none"/>
<path d="M317.2 71.5h0M318.4 79.9h0M320.5 74.1h0M315.4 81.5h0M318.2 76h0M318.2 80.5h0M320.8 82.5h0M317.7 75.2h0M315.9 73.2h0M321.3 82.2h0M320.8 82.8h0M316 81.3h0M315.5 82.9h0M317.5 79h0M314.7 76.3h0" stroke="#8484b7" stroke-width="1.9" stroke-linecap="round" fill="none"/>
<path d="M323.3 76.2h0M328.5 80.1h0M326.2 71.4h0M333.1 75h0M337 83h0M332.7 78.7h0M323.7 75.6h0M332.9 79h0M329.9 75.9h0M325 84h0M337.1 74.4h0M329.2 71.6h0M336.3 74.7h0M330.9 83.2h0M329.3 74.1h0M335.8 82.2h0M329.4 77h0M330.3 88.5h0M330.6 80.1h0M329.1 76.8h0M327.8 80.4h0M339.1 73.8h0M331.1 76h0M326.5 82.7h0M328.6 79.2h0M327.7 72.2h0M329.1 72.6h0M331.8 75.4h0M336.9 75.6h0M338.7 76h0M325.7 79.8h0M330.4 76.5h0M336 77.1h0M329.2 79.3h0M326.7 83.8h0M334.1 77.7h0M326.3 73.4h0M334.4 74.5h0M325.3 79.2h0M331.4 75.2h0M325.3 77.5h0M325.3 75.2h0M332 79.2h0M332.4 74h0M336.6 78.6h0M329 77h0M336.5 76.4h0M338.3 83.6h0M327.5 82.3h0M336.6 76.6h0M337.6 76.9h0M334.3 78.1h0M326.4 82.9h0M323.5 85.9h0M325.1 73.3h0M327.6 83.2h0M337.3 84h0M336.1 74.8h0M336.3 80.7h0M324.6 83.1h0M333.1 82.5h0M334.5 77.2h0M330.5 73.7h0M327.7 80.9h0M327.1 80.3h0M326.8 74h0M329.1 77.8h0M323.5 80.7h0M337.4 75.9h0M328.8 80.8h0" stroke="#94244e" stroke-width="2.4" stroke-linecap="round" fill="none"/>
<path d="M329.7 78h0M338.1 77.3h0M335.9 73.7h0M328.9 81.7h0M327.6 79.5h0M329.2 78.7h0M330.2 71.1h0M327.2 82.1h0M332.9 78.6h0M337.2 81.4h0M336.4 76.9h0M338.6 72.4h0M329.8 77.8h0M326.7 82.5h0M325.5 73.6h0M326.2 77.4h0M330.3 77.7h0M323.4 82.7h0M323.7 80.9h0M331.9 74h0M328.1 80.7h0M332.4 79.7h0M330.9 72h0M334.4 73.1h0M335 72.4h0M337.3 71.9h0M324.5 72.8h0M328 77.2h0M336 78h0M326.7 71.2h0M324.9 80.2h0" stroke="#6a1938" stroke-width="1.9" stroke-linecap="round" fill="none"/>
<path d="M354.3 78h0M353.4 76.3h0M341.6 83.4h0M346.7 76.9h0M352.1 77.4h0M346.2 82.9h0M349.7 78.5h0M348.5 74.3h0M352.5 72.2h0M352.8 71h0M349.3 79.4h0M347.1 72.8h0M350.4 80.7h0M349.5 79.8h0M340.9 77h0M348.8 75.5h0M349.9 74.9h0M344.8 78.3h0M342.2 79.1h0M350.6 76h0M346.1 77.7h0M342.3 78h0M353.9 76.3h0M343.7 83.9h0M349.5 82.1h0M351 74.8h0M341.2 77.1h0M343.4 76.9h0M344.4 73.1h0M346.5 83.5h0M343.9 78.5h0M341.1 77h0M344.8 78.8h0M341.5 83h0M344.8 77.1h0M345.8 72.8h0M340.8 73.6h0M341.7 72.5h0M347.7 72.9h0M346.4 74.4h0M352.2 71.8h0M341.9 83.4h0M348.8 82.5h0M341.5 80.1h0M350.6 74.8h0M343.2 76.9h0M348.7 75h0M349.5 72.2h0M347.4 74.1h0M347.6 77.8h0M345.8 76.5h0M344.4 84h0M354.3 82.8h0M351.8 79.2h0M354.4 79.4h0M348.3 72.1h0M343 74.5h0M343.3 77.2h0M341.9 79.8h0M347.2 79.7h0" stroke="#fcf8e8" stroke-width="2.4" stroke-linecap="round" fill="none"/>
<path d="M341.2 73.9h0M346 76.7h0M350.2 80.9h0M346.2 78.6h0M343.2 83.6h0M351.3 84.2h0M352.2 74.3h0M350.5 83.5h0M352.7 74.7h0M347.2 75.2h0M351.6 82.2h0M349.8 73.3h0M348.4 73.9h0M342 73.3h0M343.7 82.3h0M352.3 75.1h0M346 71.3h0M345.8 71.3h0M345.8 71.1h0M343.8 86h0M348.6 77.8h0M344.6 83.9h0M354.3 82.2h0M352.3 71.5h0M351.8 80.3h0M351.8 73.2h0M344.3 76.4h0" stroke="#efebdc" stroke-width="1.9" stroke-linecap="round" fill="none"/>
<path d="M375.3 78.7h0M373.1 79h0M378.2 78.6h0M381.4 76.1h0M364.9 80.4h0M373.6 79.8h0M377.2 77h0M376.7 75.3h0M372.8 81.8h0M374.6 82.9h0M359.4 77.6h0M382 83.7h0M377.6 79.4h0M382.6 83.7h0M368.2 71.3h0M367.1 83.7h0M379.2 81.3h0M362.2 75.1h0M366.6 79.6h0M364.6 79.1h0M361.2 79.5h0M367.4 82.1h0M382.5 81.7h0M371.7 71.3h0M362.9 78.9h0M370.7 76.1h0M366.8 72.4h0M377.8 79h0M372.3 82.6h0M376.7 71.7h0M374.1 74.8h0M378.6 82.9h0M371.6 76.1h0M376.8 79.2h0M370.7 83.4h0M381 78.5h0M356.4 77.2h0M375.8 83.9h0M368.9 79.5h0M375.2 72h0M357.3 89.7h0M373.6 81.7h0M366.2 74.1h0M370.3 79.1h0M371.9 83.7h0M382.1 74.7h0M366.3 75.7h0M360.5 78.5h0M381.6 71.8h0M369.3 83.5h0M379 76.4h0M381.4 72.3h0M359.9 72.9h0M375.1 78.8h0M377.9 77.8h0M378.4 81.9h0M381.7 81.5h0M355.6 81.5h0M358.3 81.1h0M373.2 82.1h0M364.7 82.1h0M364.3 80.1h0M379.2 78.6h0M362.6 78.3h0M379.5 82.7h0M375 80h0M377.2 81.2h0M358.3 74.9h0M368.6 81.9h0M358.6 75.8h0M360.1 72.1h0M358.1 77.9h0M379.9 76.5h0M356.5 75.8h0M377.5 80.5h0M370.4 80.3h0M366.3 75h0M376.1 73.9h0M363.5 82.5h0M369 76.1h0M381.7 77.1h0M379.6 74.5h0M358.5 77.7h0M360 76.8h0M369 76.1h0M380.4 76.1h0M373.3 80.9h0M374 75.2h0M363.6 77h0M381 82.8h0M368.9 83.8h0M381.2 79.5h0M367.1 87.3h0M379.2 81.9h0M378.6 74h0M368.6 76.5h0M377.8 82.3h0M366 76.6h0M380.3 83.4h0M365.8 77.1h0M370 78.8h0M382.9 76.7h0M367.2 73.4h0M372 78.3h0M362.6 75.3h0M368 84h0M361.4 71.8h0M365.2 81.4h0M362.2 81.4h0M370.5 86.5h0M374.8 76.1h0M378.4 81.6h0M371 79.7h0M356.8 76.9h0M363.4 77h0M360.8 73.5h0" stroke="#e0eef5" stroke-width="2.4" stroke-linecap="round" fill="none"/>
<path d="M368.2 80.5h0M378 79h0M366.5 78.5h0M382.7 79.7h0M373.4 72.4h0M362 68.6h0M368 82.6h0M375.6 75.1h0M375.2 75h0M365.3 81.1h0M378.3 84.1h0M383 72.3h0M356.4 78.2h0M377 75.3h0M377.4 78.4h0M369.2 71.6h0M361.7 77.2h0M376.8 79.5h0M376 79.9h0M370.5 79h0M361.1 75.2h0M358.3 75.8h0M371.7 73.4h0M358.8 80.9h0M358.3 74.6h0M363.1 82.8h0M363.5 81h0M371.2 74.5h0M382.2 71.9h0M364.5 73.7h0M380.6 71.6h0M364.2 71.3h0M363.2 73.9h0M365.8 72.7h0M362.6 78.7h0M364.1 78h0M375.7 75.6h0M377.6 78.5h0M364.8 72.9h0M372.5 72.4h0M380.3 71.7h0M362.2 78.2h0M365.3 77.7h0M360.9 79.4h0M382.9 74.2h0M356.7 75h0M359.7 78.1h0M377.7 72.4h0M379.5 72.9h0M376.9 77.3h0M365 76.4h0M365.2 83.9h0" stroke="#d0dde3" stroke-width="1.9" stroke-linecap="round" fill="none"/>
<path d="M385.6 78.3h0M385.2 82.3h0M388.2 79h0M389.2 72.6h0M388.1 75.3h0M386.6 87.3h0M389.1 76.2h0M386.9 81.8h0M387.2 71.4h0M385 82.4h0M386.6 84h0M389.2 72.3h0M388.1 83.9h0M387.5 81.9h0M384.7 83.1h0M384.8 73h0M388.2 73.9h0M388.9 79.9h0M385.2 76.6h0M384.6 74.5h0M389.4 72.7h0M388.6 75.2h0M387 73h0M388.4 72.8h0" stroke="#3c2060" stroke-width="2.4" stroke-linecap="round" fill="none"/>
<path d="M386.6 74.6h0M386.8 79.6h0M388.9 77.8h0M389.3 70.6h0M386.2 75.2h0M386.6 71.6h0M386.9 82.7h0M388.1 81.1h0M388.1 73.8h0M387.5 81.3h0" stroke="#2b1745" stroke-width="1.9" stroke-linecap="round" fill="none"/>
<path d="M397.9 82h0M411.4 73.3h0M392.9 80.6h0M404.4 81.4h0M402.6 83.3h0M404.6 78.9h0M406.7 78.7h0M399.7 76.7h0M402.5 75.9h0M399.7 76h0M392.5 71.6h0M399 77h0M398.4 88.5h0M396.7 77.2h0M391.8 82.5h0M395.7 74.5h0M407.6 77.3h0M395.6 81.6h0M408.9 72.7h0M411.6 80.1h0M393.7 72h0M392.1 81.5h0M400.7 82.9h0M403.7 72.4h0M399.6 74.4h0M406.2 72.7h0M397.9 78.7h0M400 81.8h0M405.9 75.5h0M410.9 75.6h0M393 76.6h0M404.2 66.7h0M393.2 78.5h0M397.1 79.3h0M401.6 74.5h0M396.5 81.4h0M396.2 76.9h0M394.1 73.7h0M395.2 75.5h0M406.8 76.4h0M399 81.3h0M399.7 83.3h0M411.4 78h0M398.7 74.7h0M409.5 75.9h0M400.4 78.1h0M394.4 75.6h0M402.2 71.1h0M399.8 72h0M395.1 81.9h0M397.6 74.4h0M396.6 75.7h0M407.4 80.3h0M404.5 80.3h0M401.9 82h0M399.8 74.3h0M406.6 82h0M411.5 74.9h0M393.1 79.7h0M409.5 75.1h0M394.8 81.7h0M404.3 80.1h0M396.4 72.3h0M391.5 79.1h0M394.6 76.9h0M395.9 73.3h0M404.6 77.8h0M409.2 72.7h0M395.7 77.9h0M402.4 80.7h0M400.6 71.7h0M391 75.6h0M403.4 81.4h0M396.9 82.3h0M392.9 80.1h0M399.3 73.1h0M397.4 72.9h0M399.2 72.8h0M402.3 78.4h0M407.6 72.3h0M410.5 82.2h0M406.9 78.2h0M402.8 72.7h0M392.7 82.5h0M399.3 78.2h0M405.6 81.6h0M409.4 75.3h0M406.8 80.2h0M397.9 73.1h0M400.4 81.8h0" stroke="#ec9494" stroke-width="2.4" stroke-linecap="round" fill="none"/>
<path d="M397.4 77.9h0M409.4 75.8h0M399.2 82.5h0M402.4 75.9h0M409.4 81.6h0M392.4 73.9h0M391.4 81.4h0M402.4 78.2h0M402.5 72.3h0M392.8 73.1h0M404.2 81.7h0M410.4 78.6h0M393.9 78.1h0M393.9 78.1h0M406.5 76.4h0M396.5 83.8h0M405.1 75.1h0M401 81.6h0M409.4 80.1h0M402.6 81.7h0M411.1 71.8h0M405.8 77.6h0M393.8 75.6h0M408.1 76h0M404.4 71.7h0M392.2 78.6h0M396.2 89h0M410 82h0M400.1 75.2h0M398 84h0M406.1 82h0M393.3 76.7h0M408.4 83.7h0M395.3 71.4h0M391.8 78h0M405 78.5h0M397 80.8h0M405.8 77.3h0M396.7 71.6h0M403.7 73.6h0" stroke="#ca7f7f" stroke-width="1.9" stroke-linecap="round" fill="none"/>
<path d="M417.4 82.3h0M415.5 73.4h0M416.7 84.1h0M413.1 75.9h0M416 72.6h0M414.8 83.1h0M414.6 73.4h0M416 81.9h0M415.8 80.8h0M417.7 72.6h0M418 78.1h0M414.3 71.4h0M414.4 78.5h0M415.9 83.4h0M417.4 74.5h0M413.2 76.6h0M414.3 75.9h0M414.3 80.4h0M413.6 75.7h0M413.8 72.2h0M417 77.2h0M417.9 83.1h0M414.4 77.9h0M416.7 79.9h0" stroke="#4262b2" stroke-width="2.4" stroke-linecap="round" fill="none"/>
<path d="M415.1 78.5h0M414.1 72h0M415.7 78.7h0M417.6 76.9h0M415.1 78.9h0M413.1 72.6h0M413.7 74.5h0M417.3 82.7h0M413.1 80.9h0M414.9 71.3h0" stroke="#2f4680" stroke-width="1.9" stroke-linecap="round" fill="none"/>
<path d="M426.6 78.9h0M426.4 72.1h0M425.6 74.1h0M432.3 75.5h0M428.4 73.2h0M430.1 75.4h0M426.2 72.5h0M428.2 77.5h0M427.6 72.8h0M430.6 77.3h0M430 79.1h0M426.2 77.2h0M431.6 84.1h0M427.3 74h0M430.4 74.4h0M432.4 76.4h0M428.1 79.7h0M426.3 75.7h0M425.3 75.2h0M430.5 79.4h0M429.9 68h0M425.1 68.6h0M426.3 82.4h0M432.1 75.9h0M428.9 74.6h0M424.8 74.7h0M431.5 76.2h0M427.1 79.1h0M425.6 81.3h0M428.8 76.7h0M432.3 82.8h0M430.4 80.3h0M425.1 81.8h0M429.6 75.2h0M431.8 74.5h0" stroke="#22307e" stroke-width="2.4" stroke-linecap="round" fill="none"/>
<path d="M425.3 83.8h0M431 71.2h0M425.6 80.6h0M430.8 82.8h0M424.9 72.7h0M431.1 77.9h0M431.3 72.7h0M424.8 83.5h0M430.7 81.7h0M432.3 81.1h0M432.1 72.5h0M426.5 75.4h0M432.3 72.3h0M425.8 84.2h0M430.1 78h0" stroke="#18225a" stroke-width="1.9" stroke-linecap="round" fill="none"/>
<path d="M441.2 76.6h0M446.9 82.8h0M449.1 80.8h0M442.3 82.3h0M438 71.9h0M447.3 79.2h0M447.1 82h0M439.6 78.6h0M440.2 73.1h0M445.8 83.4h0M440.1 80.9h0M440.7 78.2h0M450 78.7h0M445.1 81.5h0M436.1 83.1h0M438 72.7h0M446.2 77h0M440.1 76.1h0M436.1 75h0M441.1 76.6h0M441.1 71.4h0M447.4 77.7h0M439.7 83h0M439.2 81.9h0M438 77.7h0M437.9 75.4h0M446.4 79.4h0M441.9 84.5h0M449.9 72.3h0M438.7 75.7h0M449.3 81.8h0M441.9 83.5h0M444.9 80h0M441.9 72.4h0M438.9 72.9h0M445.9 79.5h0M449.2 81h0M444.3 73.3h0M438.3 72.2h0M449.7 66.6h0M439.5 78.9h0M436.5 72.9h0M445.3 72.2h0M439.8 78.9h0M441.3 83.6h0M442.6 78.2h0M451.2 80.8h0M447.1 79.5h0M451 80.8h0M444.8 76.9h0M448.1 74h0M443.6 76.7h0M447.2 84.2h0M448.3 74.6h0M443.7 83.5h0M441.6 71.4h0M444.2 75.2h0M443.5 72h0M442.9 75.7h0M444.2 76.2h0M436.4 78.4h0M440.4 75.7h0M447.5 77.6h0M436.2 73.5h0M441.7 76.4h0M450.9 77h0" stroke="#dc3a3a" stroke-width="2.4" stroke-linecap="round" fill="none"/>
<path d="M450.8 79.4h0M448.8 85.5h0M445 72h0M441.8 79.6h0M450.1 76h0M449.8 74.1h0M443.6 84h0M439.3 75.6h0M442.4 81.4h0M448.2 72.7h0M441.6 81.8h0M449.7 77.4h0M438.4 84.5h0M444.9 82.5h0M443.4 77.3h0M440.1 83.3h0M443.9 79.1h0M450.7 89.1h0M449.4 73.4h0M438.2 77.9h0M443.1 77.3h0M447.1 78.2h0M448.9 83.4h0M451.2 72.7h0M443 74.5h0M449.9 73.1h0M450.9 82.4h0M437.7 77.1h0M448.1 73.6h0" stroke="#9e2929" stroke-width="1.9" stroke-linecap="round" fill="none"/>
<circle cx="66" cy="114.6" r="1.2" fill="#a4b048"/>
<circle cx="110" cy="97" r="1.2" fill="#eeea90"/>
<circle cx="129" cy="97" r="1.2" fill="#eeea90"/>
<circle cx="166" cy="105.4" r="1.2" fill="#80d0d0"/>
<circle cx="173" cy="105" r="1.2" fill="#8c1c24"/>
<circle cx="175" cy="94.6" r="1.2" fill="#b02030"/>
<circle cx="176" cy="120.8" r="1.2" fill="#402040"/>
<circle cx="189" cy="95" r="1.2" fill="#3d9444"/>
<circle cx="189" cy="97.5" r="1.2" fill="#3d9444"/>
<circle cx="189" cy="100" r="1.2" fill="#3d9444"/>
<circle cx="213.5" cy="97" r="1.2" fill="#2b3890"/>
<circle cx="231.5" cy="93.5" r="1.2" fill="#9c9c36"/>
<circle cx="257" cy="97" r="1.2" fill="#8e2c8e"/>
<circle cx="278" cy="93" r="1.2" fill="#36a0a2"/>
<circle cx="284" cy="95" r="1.2" fill="#2b3890"/>
<circle cx="300.5" cy="110" r="1.2" fill="#c8c8c8"/>
<circle cx="389.3" cy="114.3" r="1.2" fill="#3c2060"/>
<circle cx="387" cy="90" r="1.2" fill="#3c2060"/>
<circle cx="423.6" cy="95" r="1.2" fill="#c0c0c8"/>
<circle cx="423.6" cy="98" r="1.2" fill="#c0c0c8"/>
<circle cx="423.6" cy="101" r="1.2" fill="#c0c0c8"/>
<circle cx="445" cy="97.5" r="1.2" fill="#d42828"/>
<circle cx="445" cy="100" r="1.2" fill="#d42828"/>
<circle cx="445" cy="102.5" r="1.2" fill="#d42828"/>
<circle cx="407.5" cy="92" r="1.2" fill="#e88a8a"/>
<circle cx="85.8" cy="59" r="1.2" fill="#2b3890"/>
<circle cx="250.3" cy="46.5" r="1.2" fill="#a02c9e"/>
<circle cx="250.3" cy="49" r="1.2" fill="#a02c9e"/>
<circle cx="250.3" cy="51.5" r="1.2" fill="#a02c9e"/>
<circle cx="93" cy="64" r="1.2" fill="#2b3890"/>
<circle cx="96" cy="66" r="1.2" fill="#2b3890"/>
<circle cx="81" cy="63" r="1.2" fill="#2b3890"/>
<rect x="417" y="23.2" width="7.2" height="4" fill="#ccd0ea"/>
<path d="M423.9 23.5h0M421.4 23.9h0M422.3 25.2h0M423.5 24.4h0M423.2 24.4h0M417.6 23.8h0M417.8 25.1h0M423.8 24.9h0M422.1 23.6h0M420.8 25.7h0M418 25.8h0M420.3 24.8h0M422.9 26.3h0M418.1 23.9h0M417.7 24.6h0M421.6 27.4h0M423.8 27h0M418.1 26.7h0M422.4 25.4h0M424 25.9h0M418.1 24.4h0M418.2 25.9h0M421.5 26.9h0M417.4 23.5h0M423.8 24.5h0M419.1 27h0M418 26.7h0M423.3 25.7h0M421.4 23.5h0M421.4 26h0" stroke="#b8bce0" stroke-width="1.4" stroke-linecap="round"/>
<path d="M418.8 74V29.6 A2.8 2.8 0 0 1 424.4 29.6V74" fill="none" stroke="#a6a6b2" stroke-width="1.5"/>
<path d="M419.7 72V29.7 A1.9 1.9 0 0 1 423.5 29.7V72" fill="none" stroke="#2e2e48" stroke-width="1"/>
<path d="M421.6 34V60" fill="none" stroke="#e4e4ec" stroke-width="1"/>
<path d="M423.1 75.6h0M420 77.4h0M422.5 79.3h0M420.2 78.5h0M423.3 74h0M424.2 76.5h0M422.1 78h0M423.6 82.8h0M420.9 72.8h0M424.3 79.7h0M422.4 79.8h0M420.6 82.4h0" stroke="#d8dcee" stroke-width="1.8" stroke-linecap="round"/>
<path d="M433.4 78 L433.6 64 L434.6 58.5 L435.8 61 L436.8 68 L437 78Z" fill="#d83030"/>
<path d="M435 72.4h0M433.3 68.4h0M434.4 70.2h0M436.3 67.6h0M435.6 64.1h0M434.2 68.4h0M435.2 62.9h0M436.1 68.2h0M434.6 63.4h0M436.4 76.1h0M436.8 63.3h0M433.5 70.8h0M433.3 75.2h0M435.8 65.1h0M434.9 71.8h0M433.8 65.6h0M436.2 71.8h0M435.4 60.5h0M434 63.5h0M433.3 71h0M435.4 76.5h0M435.3 76.4h0M435 68.6h0M434.3 67.6h0M436.8 68h0M433.2 65.4h0M434 70.7h0M435.1 67.8h0M436.7 73.4h0M433.5 59.1h0" stroke="#b01c1c" stroke-width="1.6" stroke-linecap="round"/>
<path d="M52.5 76.8 L53.8 76.8 L55.1 77.2 L56.4 77.3 L57.7 77.8 L59 77.7 L60.3 78 L61.6 77.8 L62.9 78 L64.2 77.7 L65.5 78.1 L66.8 78.3 L68.1 78.6 L69.4 78.2 L70.7 78.1 L72 77.6 L73.3 77.5 L74.6 77.3 L75.9 77.6 L77.2 77.6 L78.5 78.2 L79.8 78.3 L81.1 78.2 L82.4 78.1 L83.7 78.5 L85 78.4 L86.3 78.3 L87.6 78.2 L88.9 78.3 L90.2 78 L91.5 77.8 L92.8 77.4 L94.1 77.5 L95.4 77.5 L96.7 77.5 L98 77.6 L99.3 77.5 L100.6 77.3 L101.9 77.5 L103.2 77.4 L104.5 77.8 L105.8 78.1 L107.1 77.9 L108.4 77.5 L109.7 77.6 L111 77.2 L112.3 76.9 L113.6 77.3 L114.9 77.7 L116.2 77.8 L117.5 78 L118.8 77.9 L120.1 77.9 L121.4 77.9 L122.7 77.8 L124 77.4 L125.3 77.5 L126.6 77.9 L127.9 77.6 L129.2 77.5 L130.5 77.8 L131.8 78.1 L133.1 77.8 L134.4 77.8 L135.7 77.9 L137 78.3 L138.3 78 L139.6 78.5 L140.9 78.5 L142.2 78.7 L143.5 77.6 L144.8 77.7 L146.1 77.4 L147.4 77.3 L148.7 77.2 L150 77.3 L151.3 76.9 L152.6 77 L153.9 76.9 L155.2 77 L156.5 77.2 L157.8 77.4 L159.1 77.2 L160.4 77.8 L161.7 77.6 L163 77.5 L164.3 77.5 L165.6 77.4 L166.9 76.8 L168.2 77.3 L169.5 77.6 L170.8 77.7 L172.1 78.6 L173.4 79 L174.7 79.1 L176 78.7 L177.3 78.9 L178.6 78.6 L179.9 78.3 L181.2 78.4 L182.5 78.4 L183.8 78 L185.1 77.6 L186.4 77.5 L187.7 77.2 L189 77.2 L190.3 77.4 L191.6 77 L192.9 77.2 L194.2 77.3 L195.5 77.5 L196.8 77.5 L198.1 78.2 L199.4 77.9 L200.7 77.4 L202 77.5 L203.3 77.5 L204.6 77.2 L205.9 77.2 L207.2 77.8 L208.5 77.5 L209.8 77.4 L211.1 77.4 L212.4 77.8 L213.7 77.4 L215 77.5 L216.3 78 L217.6 77.8 L218.9 77.9 L220.2 77.9 L221.5 78 L222.8 77.5 L224.1 77.7 L225.4 77.6 L226.7 77 L228 77.1 L229.3 77.2 L230.6 77 L231.9 76.9 L233.2 77.9 L234.5 78.3 L235.8 78.5 L237.1 78.7 L238.4 78.7 L239.7 78.5 L241 78 L242.3 77.7 L243.6 77.8 L244.9 77.7 L246.2 77.2 L247.5 77.6 L248.8 77.4 L250.1 77.3 L251.4 77.5 L252.7 77.7 L254 77.1 L255.3 77.4 L256.6 77.3 L257.9 77.7 L259.2 77.9 L260.5 78.1 L261.8 78.3 L263.1 78.5 L264.4 78.1 L265.7 77.8 L267 77.9 L268.3 77.4 L269.6 77.1 L270.9 77.3 L272.2 77.7 L273.5 78.1 L274.8 78.4 L276.1 78.7 L277.4 78 L278.7 77.6 L280 76.9 L281.3 77.2 L282.6 76.7 L283.9 77 L285.2 76.8 L286.5 77.1 L287.8 77.1 L289.1 77.3 L290.4 77.9 L291.7 78.2 L293 77.9 L294.3 77.8 L295.6 78 L296.9 77.8 L298.2 77.9 L299.5 78.5 L300.8 78.7 L302.1 78.5 L303.4 78.5 L304.7 78.6 L306 77.9 L307.3 77.5 L308.6 77.5 L309.9 76.8 L311.2 76.8 L312.5 76.9 L313.8 77.3 L315.1 77.4 L316.4 78 L317.7 78 L319 78.2 L320.3 78 L321.6 77.9 L322.9 78.4 L324.2 78.4 L325.5 78.5 L326.8 78.8 L328.1 79.3 L329.4 78.9 L330.7 78.8 L332 78.7 L333.3 78 L334.6 77.9 L335.9 77.6 L337.2 77.6 L338.5 77.2 L339.8 77.7 L341.1 77.4 L342.4 78.2 L343.7 78.1 L345 78.4 L346.3 78.1 L347.6 78.1 L348.9 77.6 L350.2 77.5 L351.2 77.8 L353.5 97.6 L355.8 77.9 L356.7 77.3 L358 77.5 L359.3 77.5 L360.6 77.3 L361.9 77.3 L363.2 77.3 L364.5 77.1 L365.8 77.1 L367.1 76.9 L368.4 77.1 L369.7 77.2 L371 77 L372.3 77 L373.6 77.4 L374.9 77.4 L376.2 77.5 L377.5 77.9 L378.8 78.1 L380.1 78 L381.4 77.7 L382.7 77.7 L384 77.6 L385.3 77.5 L386.6 77.7 L387.9 78.1 L389.2 78.2 L390.5 78.2 L391.8 78.1 L393.1 78.1 L394.4 77.6 L395.7 77 L397 77.3 L398.3 77.2 L399.6 76.9 L400.9 77.4 L402.2 77.8 L403.5 77.9 L404.8 77.9 L406.1 78.1 L407.4 77.8 L408.7 77.8 L410 77.1 L411.3 77 L412.6 77.3 L413.9 77.2 L415.2 77.1 L416.5 77.6 L417.8 77.8" fill="none" stroke="#141414" stroke-width="0.95" stroke-linejoin="round"/>
<path d="M51.6 21.3V130.3H452" fill="none" stroke="#000" stroke-width="1.4"/>
<path d="M48.2 23.9H51.6M48.2 37.1H51.6M48.2 50.3H51.6M48.2 63.5H51.6M48.2 76.7H51.6M48.2 89.9H51.6M48.2 103.1H51.6M48.2 116.3H51.6M48.2 129.5H51.6" stroke="#000" stroke-width="1.2"/>
<text x="46" y="26.9" font-size="8.4" text-anchor="end" fill="#111">2</text>
<text x="46" y="53.3" font-size="8.4" text-anchor="end" fill="#111">1</text>
<text x="46" y="79.7" font-size="8.4" text-anchor="end" fill="#111">0</text>
<text x="46" y="106.1" font-size="8.4" text-anchor="end" fill="#111">-1</text>
<text x="46" y="132.5" font-size="8.4" text-anchor="end" fill="#111">-2</text>
<text x="64.2" y="141.2" font-size="6.4" text-anchor="middle" fill="#111">1</text>
<text x="89.6" y="141.2" font-size="6.4" text-anchor="middle" fill="#111">2</text>
<text x="115.4" y="141.2" font-size="6.4" text-anchor="middle" fill="#111">3</text>
<text x="140.8" y="141.2" font-size="6.4" text-anchor="middle" fill="#111">4</text>
<text x="158" y="141.2" font-size="6.4" text-anchor="middle" fill="#111">5</text>
<text x="177" y="141.2" font-size="6.4" text-anchor="middle" fill="#111">6</text>
<text x="196" y="141.2" font-size="6.4" text-anchor="middle" fill="#111">7</text>
<text x="215.4" y="141.2" font-size="6.4" text-anchor="middle" fill="#111">8</text>
<text x="239.6" y="141.2" font-size="6.4" text-anchor="middle" fill="#111">9</text>
<text x="255.2" y="141.2" font-size="6.4" text-anchor="middle" fill="#111">10</text>
<text x="273" y="141.2" font-size="6.4" text-anchor="middle" fill="#111">11</text>
<text x="294" y="141.2" font-size="6.4" text-anchor="middle" fill="#111">12</text>
<text x="308.3" y="141.2" font-size="6.4" text-anchor="middle" fill="#111">13</text>
<text x="318.5" y="141.2" font-size="6.4" text-anchor="middle" fill="#111">14</text>
<text x="330.4" y="141.2" font-size="6.4" text-anchor="middle" fill="#111">15</text>
<text x="348" y="141.2" font-size="6.4" text-anchor="middle" fill="#111">16</text>
<text x="371.6" y="141.2" font-size="6.4" text-anchor="middle" fill="#111">17</text>
<text x="386.2" y="141.2" font-size="6.4" text-anchor="middle" fill="#111">18</text>
<text x="402.6" y="141.2" font-size="6.4" text-anchor="middle" fill="#111">19</text>
<text x="414" y="141.2" font-size="6.4" text-anchor="middle" fill="#111">20</text>
<text x="422.5" y="141.2" font-size="6.4" text-anchor="middle" fill="#111">21</text>
<text x="431" y="141.2" font-size="6.4" text-anchor="middle" fill="#111">22</text>
<text x="443.7" y="141.2" font-size="6.4" text-anchor="middle" fill="#111">X</text>
<text x="232.2" y="154.4" font-size="9.2" font-weight="bold" textLength="39.5" lengthAdjust="spacingAndGlyphs" fill="#1a1a1a">Chromosome</text>
<text transform="translate(32.2 108.9) rotate(-90)" font-size="8.8" font-weight="bold" textLength="73" lengthAdjust="spacingAndGlyphs" fill="#1a1a1a">log2 relative copy number</text>
<rect x="330.4" y="7.3" width="47.1" height="43" fill="#fff" stroke="#000" stroke-width="1.2"/>
<text x="354" y="18" font-size="7.7" text-anchor="middle" fill="#222">chr21q22:</text>
<text x="354" y="27.4" font-size="7.7" text-anchor="middle" fill="#222" font-style="italic">RUNX1</text>
<text x="354" y="36.8" font-size="7.7" text-anchor="middle" fill="#222" font-style="italic">ERG</text>
<text x="354" y="46.2" font-size="7.7" text-anchor="middle" fill="#222" font-style="italic">TMPRSS2</text>
<rect x="465.6" y="23.6" width="46.6" height="51.8" fill="#fff" stroke="#000" stroke-width="1.2"/>
<text x="488.7" y="35" font-size="7.7" text-anchor="middle" fill="#222">chrXp22:</text>
<text x="488.7" y="44.3" font-size="7.7" text-anchor="middle" fill="#222" font-style="italic">CRLF2</text>
<text x="488.7" y="53.6" font-size="7.7" text-anchor="middle" fill="#222" font-style="italic">FANCB</text>
<text x="488.7" y="62.9" font-size="7.7" text-anchor="middle" fill="#222" font-style="italic">ZRSR2</text>
<text x="488.7" y="72.2" font-size="7.7" text-anchor="middle" fill="#222" font-style="italic">NR0B1</text>
<line x1="382.7" y1="13.2" x2="413.8" y2="25.2" stroke="#000" stroke-width="1.4" marker-end="url(#ah2)"/>
<line x1="462.7" y1="30.8" x2="436.3" y2="53.1" stroke="#000" stroke-width="1.4" marker-end="url(#ah2)"/>
<text x="7.8" y="183.5" font-size="11.6" font-weight="bold">B</text>
<rect x="52" y="187" width="355.2" height="126.6" fill="#262626"/>
<rect x="52" y="187" width="355.2" height="1" fill="#1c1c1c"/>
<rect x="52" y="312.6" width="355.2" height="1" fill="#1a1a1a"/>
<rect x="57.2" y="193" width="116.3" height="115.6" fill="#131313"/>
<rect x="287.3" y="194.7" width="114.4" height="115.7" fill="#131313"/>
<ellipse cx="116" cy="251" rx="41" ry="44" fill="#10102e" filter="url(#b2)"/>
<circle cx="125.6" cy="226.4" r="6.2" fill="#2a2a72" filter="url(#b1)"/>
<circle cx="134.9" cy="228.9" r="7.8" fill="#22225e" filter="url(#b1)"/>
<circle cx="137.1" cy="235" r="7.5" fill="#262668" filter="url(#b1)"/>
<circle cx="141.9" cy="243.5" r="7.2" fill="#1e1e58" filter="url(#b1)"/>
<circle cx="142.2" cy="253.7" r="7" fill="#1e1e58" filter="url(#b1)"/>
<circle cx="140.8" cy="259.7" r="6.8" fill="#1e1e58" filter="url(#b1)"/>
<circle cx="138.1" cy="265.5" r="7.4" fill="#262668" filter="url(#b1)"/>
<circle cx="134" cy="273.6" r="7.1" fill="#262668" filter="url(#b1)"/>
<circle cx="125.5" cy="274.4" r="6.1" fill="#22225e" filter="url(#b1)"/>
<circle cx="136" cy="240" r="7" fill="#22225e" filter="url(#b1)"/>
<circle cx="140" cy="256" r="6" fill="#262668" filter="url(#b1)"/>
<circle cx="128" cy="230" r="6" fill="#1e1e58" filter="url(#b1)"/>
<circle cx="132" cy="282" r="6" fill="#262668" filter="url(#b1)"/>
<circle cx="100" cy="230.3" r="7.2" fill="#22225e" filter="url(#b1)"/>
<circle cx="95.1" cy="235" r="7.1" fill="#262668" filter="url(#b1)"/>
<circle cx="92.8" cy="241.2" r="5.9" fill="#22225e" filter="url(#b1)"/>
<circle cx="90.9" cy="247.1" r="6.9" fill="#1e1e58" filter="url(#b1)"/>
<circle cx="91" cy="253.5" r="7.2" fill="#1e1e58" filter="url(#b1)"/>
<circle cx="92.3" cy="260.4" r="6" fill="#262668" filter="url(#b1)"/>
<circle cx="95.2" cy="267.1" r="6.2" fill="#1e1e58" filter="url(#b1)"/>
<circle cx="101.5" cy="293.2" r="6.3" fill="#3a3aa4" filter="url(#b1s)"/>
<circle cx="95.1" cy="285" r="6.5" fill="#4242b0" filter="url(#b1s)"/>
<circle cx="84.8" cy="279.6" r="6.8" fill="#3a3aa4" filter="url(#b1s)"/>
<circle cx="80.9" cy="270.4" r="6.9" fill="#303090" filter="url(#b1s)"/>
<circle cx="76.7" cy="260.9" r="6.3" fill="#3e3eaa" filter="url(#b1s)"/>
<circle cx="76.7" cy="247.6" r="6.7" fill="#303090" filter="url(#b1s)"/>
<circle cx="77.4" cy="238.5" r="5.3" fill="#2c2c88" filter="url(#b1s)"/>
<circle cx="84.5" cy="229.5" r="6.2" fill="#4242b0" filter="url(#b1s)"/>
<circle cx="90.3" cy="218.3" r="6.3" fill="#3a3aa4" filter="url(#b1s)"/>
<circle cx="95.2" cy="214.7" r="5.8" fill="#3a3aa4" filter="url(#b1s)"/>
<circle cx="104.4" cy="210.2" r="5.6" fill="#2c2c88" filter="url(#b1s)"/>
<circle cx="115.6" cy="209.1" r="5.3" fill="#2c2c88" filter="url(#b1s)"/>
<circle cx="126.3" cy="210.1" r="6.4" fill="#3a3aa4" filter="url(#b1s)"/>
<circle cx="136.1" cy="213.4" r="6.8" fill="#303090" filter="url(#b1s)"/>
<circle cx="141.3" cy="218" r="6.6" fill="#3a3aa4" filter="url(#b1s)"/>
<circle cx="147.3" cy="226.8" r="5.8" fill="#3a3aa4" filter="url(#b1s)"/>
<circle cx="153.8" cy="236.7" r="5.9" fill="#303090" filter="url(#b1s)"/>
<circle cx="154.9" cy="247" r="6.1" fill="#3636a0" filter="url(#b1s)"/>
<circle cx="152.9" cy="260.2" r="6.2" fill="#30309a" filter="url(#b1s)"/>
<circle cx="149.7" cy="269.5" r="5.4" fill="#3a3aa4" filter="url(#b1s)"/>
<circle cx="144.9" cy="279.2" r="5.6" fill="#3636a0" filter="url(#b1s)"/>
<circle cx="137.6" cy="284.7" r="6.6" fill="#30309a" filter="url(#b1s)"/>
<circle cx="129.4" cy="289.4" r="5.4" fill="#3a3aa4" filter="url(#b1s)"/>
<circle cx="119.9" cy="295.3" r="5.9" fill="#2c2c88" filter="url(#b1s)"/>
<circle cx="110.1" cy="292.8" r="5.9" fill="#3636a0" filter="url(#b1s)"/>
<circle cx="102.8" cy="292.3" r="7" fill="#30309a" filter="url(#b1s)"/>
<path d="M125 213 Q115 236 118 258" stroke="#0a0a20" stroke-width="3" fill="none" filter="url(#b1)" opacity="0.85"/>
<ellipse cx="112" cy="266" rx="11" ry="8" fill="#0a0a1e" filter="url(#b2)"/>
<path d="M102.1 218.4 L99 220.1 L96.1 222.2 L93.5 224.7 L91.1 227.4 L89 230.4 L87.1 233.5 L85.6 236.9 L84.4 240.5 L83.6 244.1 L83.1 247.9 L83 251.6 L83.2 255.4 L83.8 259.1 L84.8 262.7 L86.1 266.2 L87.7 269.5 L89.6 272.7 L91.9 275.6 L94.4 278.2" stroke="#0a0a20" stroke-width="2.6" fill="none" filter="url(#b1)" opacity="0.8"/>
<path d="M100 282 Q112 272 128 276" stroke="#0a0a20" stroke-width="3" fill="none" filter="url(#b1)" opacity="0.7"/>
<g filter="url(#b08)"><ellipse cx="137" cy="267.5" rx="4.6" ry="6.5" fill="#3a1020"/><circle cx="135.3" cy="265.8" r="1.9" fill="#d81e3a"/><circle cx="139.2" cy="267.6" r="1.8" fill="#e02040"/><circle cx="136.4" cy="270.6" r="1.5" fill="#c81836"/><circle cx="139.4" cy="263.8" r="1.3" fill="#e83048"/><circle cx="136" cy="273.6" r="1" fill="#b81c38"/></g>
<circle cx="121.2" cy="236.8" r="1.1" fill="#e8f0e8"/>
<circle cx="126.5" cy="277" r="0.8" fill="#a0b080"/><circle cx="131.4" cy="279.3" r="0.7" fill="#90a070"/>
<circle cx="342.5" cy="251" r="47" fill="#151546" filter="url(#b2)"/>
<circle cx="362" cy="225.4" r="6.2" fill="#222266" filter="url(#b1)"/>
<circle cx="371.8" cy="236.4" r="6.2" fill="#222266" filter="url(#b1)"/>
<circle cx="368.5" cy="270" r="7.5" fill="#222266" filter="url(#b1)"/>
<circle cx="306.5" cy="264.5" r="6.2" fill="#282876" filter="url(#b1)"/>
<circle cx="320" cy="240" r="7.5" fill="#24246c" filter="url(#b1)"/>
<circle cx="350" cy="230" r="7.5" fill="#24246c" filter="url(#b1)"/>
<circle cx="340" cy="265" r="7.5" fill="#282876" filter="url(#b1)"/>
<circle cx="355" cy="250" r="7.5" fill="#24246c" filter="url(#b1)"/>
<circle cx="330" cy="270" r="7.5" fill="#24246c" filter="url(#b1)"/>
<circle cx="315" cy="275" r="6.2" fill="#222266" filter="url(#b1)"/>
<circle cx="345" cy="220" r="6.2" fill="#222266" filter="url(#b1)"/>
<circle cx="330" cy="228" r="6.2" fill="#282876" filter="url(#b1)"/>
<circle cx="312" cy="252" r="6.2" fill="#222266" filter="url(#b1)"/>
<circle cx="360" cy="262" r="6.2" fill="#24246c" filter="url(#b1)"/>
<g filter="url(#b1)" opacity="0.6"><circle cx="328" cy="277.7" r="3.5" fill="#20205e"/><circle cx="359.8" cy="250.4" r="4.3" fill="#2c2c80"/><circle cx="324.9" cy="252.3" r="3.4" fill="#30308a"/><circle cx="315.5" cy="282.2" r="4" fill="#2c2c80"/><circle cx="338.5" cy="289" r="4.4" fill="#20205e"/><circle cx="330" cy="209.7" r="3.4" fill="#2c2c80"/><circle cx="309.7" cy="249.3" r="3.4" fill="#262670"/><circle cx="359.8" cy="213.4" r="3.1" fill="#20205e"/><circle cx="368.9" cy="219.2" r="2.6" fill="#2c2c80"/><circle cx="342.9" cy="290.4" r="3.9" fill="#1a1a52"/><circle cx="308.8" cy="277.3" r="4.3" fill="#2c2c80"/><circle cx="308.7" cy="234.2" r="3.8" fill="#1a1a52"/><circle cx="319.1" cy="229.6" r="3.6" fill="#2c2c80"/><circle cx="325" cy="251.5" r="3.2" fill="#2c2c80"/><circle cx="330.7" cy="221.9" r="3.6" fill="#30308a"/><circle cx="371.8" cy="252.3" r="4.4" fill="#262670"/><circle cx="336.1" cy="259.8" r="3.1" fill="#1a1a52"/><circle cx="346.1" cy="243.9" r="4.1" fill="#1a1a52"/><circle cx="357.6" cy="234.6" r="4.4" fill="#2c2c80"/><circle cx="307.3" cy="244.3" r="4.5" fill="#2c2c80"/><circle cx="336.3" cy="237.7" r="2.5" fill="#2c2c80"/><circle cx="332" cy="257.4" r="4.1" fill="#30308a"/><circle cx="377.5" cy="241.5" r="2.9" fill="#2c2c80"/><circle cx="363.7" cy="215" r="4" fill="#20205e"/><circle cx="350.3" cy="218.4" r="3.9" fill="#2c2c80"/><circle cx="348.2" cy="291.5" r="4.1" fill="#1a1a52"/><circle cx="327.6" cy="244.8" r="3" fill="#1a1a52"/><circle cx="371.3" cy="266.8" r="2.7" fill="#262670"/><circle cx="338.6" cy="288.9" r="3.2" fill="#2c2c80"/><circle cx="342.9" cy="217.6" r="2.6" fill="#30308a"/><circle cx="309.5" cy="279.3" r="3" fill="#2c2c80"/><circle cx="320.1" cy="217.1" r="4.4" fill="#20205e"/><circle cx="360.6" cy="290.9" r="3.9" fill="#30308a"/><circle cx="382" cy="241.2" r="3.1" fill="#2c2c80"/><circle cx="351.2" cy="213.2" r="3.8" fill="#20205e"/><circle cx="375" cy="276.5" r="3.6" fill="#1a1a52"/><circle cx="335.2" cy="265.2" r="4.1" fill="#1a1a52"/><circle cx="337.9" cy="273.6" r="2.9" fill="#20205e"/><circle cx="335.4" cy="249.2" r="3" fill="#2c2c80"/><circle cx="382.9" cy="255.2" r="3.6" fill="#2c2c80"/><circle cx="366.7" cy="249.9" r="2.6" fill="#262670"/><circle cx="351.5" cy="293.8" r="3.7" fill="#1a1a52"/><circle cx="307.2" cy="235.9" r="4.1" fill="#30308a"/><circle cx="336.1" cy="262.6" r="2.7" fill="#20205e"/><circle cx="371.2" cy="221" r="3.7" fill="#30308a"/><circle cx="356.1" cy="212.9" r="3.8" fill="#2c2c80"/><circle cx="363.9" cy="268.8" r="3.4" fill="#20205e"/><circle cx="362.4" cy="245.2" r="4.3" fill="#20205e"/><circle cx="317.8" cy="236.4" r="4.1" fill="#2c2c80"/><circle cx="332.6" cy="232.3" r="3.5" fill="#262670"/><circle cx="309.4" cy="279.7" r="3.8" fill="#30308a"/><circle cx="354.5" cy="273.5" r="3.7" fill="#30308a"/><circle cx="351.4" cy="283.8" r="4" fill="#30308a"/><circle cx="319.8" cy="246.2" r="3.5" fill="#262670"/><circle cx="315.9" cy="258.2" r="3.8" fill="#262670"/><circle cx="350.5" cy="281.3" r="3.7" fill="#30308a"/><circle cx="381.3" cy="266.8" r="4.4" fill="#1a1a52"/><circle cx="365.7" cy="229.5" r="4.1" fill="#1a1a52"/><circle cx="358.9" cy="266.3" r="3.1" fill="#2c2c80"/><circle cx="351.9" cy="293.1" r="3.4" fill="#262670"/></g>
<g filter="url(#b1)" opacity="0.75"><circle cx="340.4" cy="230.4" r="3" fill="#0e0e2c"/><circle cx="354.6" cy="244.8" r="2.9" fill="#0e0e2c"/><circle cx="362.6" cy="245.7" r="3.3" fill="#0e0e2c"/><circle cx="348.9" cy="232.9" r="2.2" fill="#0e0e2c"/><circle cx="350.1" cy="230.4" r="2.5" fill="#0e0e2c"/><circle cx="314.2" cy="257.5" r="3.3" fill="#0e0e2c"/><circle cx="368.3" cy="236.1" r="2.3" fill="#0e0e2c"/><circle cx="340.6" cy="253.1" r="2.3" fill="#0e0e2c"/><circle cx="334.8" cy="263.1" r="2.7" fill="#0e0e2c"/><circle cx="361.1" cy="271.2" r="2.6" fill="#0e0e2c"/><circle cx="343" cy="279.2" r="2.5" fill="#0e0e2c"/><circle cx="373.3" cy="255.7" r="3.1" fill="#0e0e2c"/><circle cx="355.8" cy="238.2" r="2.4" fill="#0e0e2c"/><circle cx="338.2" cy="238.7" r="3.4" fill="#0e0e2c"/><circle cx="328.1" cy="230.3" r="2.1" fill="#0e0e2c"/><circle cx="337.9" cy="272.6" r="3.5" fill="#0e0e2c"/></g>
<circle cx="338.3" cy="208.4" r="7.7" fill="#4646b8" filter="url(#b1s)"/>
<circle cx="345" cy="207" r="5.5" fill="#4040b0" filter="url(#b1s)"/>
<circle cx="360.9" cy="212.3" r="7.2" fill="#4646b8" filter="url(#b1s)"/>
<circle cx="373" cy="221" r="5.5" fill="#4646b8" filter="url(#b1s)"/>
<circle cx="379.5" cy="228.7" r="5.5" fill="#4646b8" filter="url(#b1s)"/>
<circle cx="385" cy="240.8" r="6.6" fill="#4646b8" filter="url(#b1s)"/>
<circle cx="383.9" cy="253.5" r="6.6" fill="#4646b8" filter="url(#b1s)"/>
<circle cx="378.4" cy="270" r="7.2" fill="#4040b0" filter="url(#b1s)"/>
<circle cx="367.4" cy="283" r="3.9" fill="#4040b0" filter="url(#b1s)"/>
<circle cx="356.5" cy="282" r="6.6" fill="#4040b0" filter="url(#b1s)"/>
<circle cx="345.5" cy="294" r="6.6" fill="#4646b8" filter="url(#b1s)"/>
<circle cx="331.7" cy="289.7" r="6.6" fill="#4646b8" filter="url(#b1s)"/>
<circle cx="320.7" cy="288.6" r="6.6" fill="#4646b8" filter="url(#b1s)"/>
<circle cx="297.7" cy="252.4" r="5.5" fill="#4040b0" filter="url(#b1s)"/>
<circle cx="298" cy="244" r="5" fill="#4040b0" filter="url(#b1s)"/>
<circle cx="300" cy="236.4" r="5.5" fill="#3c3caa" filter="url(#b1s)"/>
<circle cx="306.5" cy="227" r="5.5" fill="#4646b8" filter="url(#b1s)"/>
<circle cx="326.2" cy="220" r="6.6" fill="#4040b0" filter="url(#b1s)"/>
<circle cx="302" cy="277" r="5" fill="#4646b8" filter="url(#b1s)"/>
<g filter="url(#b05)"><ellipse cx="307.5" cy="278.5" rx="3.4" ry="6" transform="rotate(-25 307.5 278.5)" fill="#c02078"/><circle cx="305.5" cy="274.5" r="2" fill="#e8309a"/><circle cx="308.8" cy="279" r="2.4" fill="#f040a8"/><circle cx="307" cy="282.5" r="1.8" fill="#e02890"/></g>
<circle cx="331.7" cy="245.2" r="1" fill="#e8f0e8"/><circle cx="314.7" cy="248" r="0.7" fill="#8090a0"/>
<path d="M179.5 243.2L124 248.9M179.5 243.2L148 263.5M271.9 240L320.4 221.6M271.9 240L297.5 271.4" stroke="#a03068" stroke-width="0.8" fill="none"/>
<text x="180.5" y="247.4" font-size="12.6" fill="#d23c8e" stroke="#d23c8e" stroke-width="0.25" textLength="86.5" lengthAdjust="spacingAndGlyphs">RUNX1 (21q22)</text>
<text x="186.3" y="274.2" font-size="12.6" fill="#b8c872" stroke="#b8c872" stroke-width="0.25" textLength="75.7" lengthAdjust="spacingAndGlyphs">ETV6 (12p13)</text>
<text x="8" y="341.4" font-size="11.6" font-weight="bold">C</text>
<text x="128" y="340.3" font-size="9.7" font-weight="bold" textLength="187.9" lengthAdjust="spacingAndGlyphs">Cell-free DNA (cfDNA) Prenatal Testing</text>
<rect x="265" y="346.8" width="77.4" height="85" fill="#e2e2e2"/>
<line x1="52" y1="409.5" x2="392.5" y2="409.5" stroke="#c8c8c8" stroke-width="0.8"/>
<path d="M160.9 412.6 L161.3 415 L161.7 410.6 L162.1 395 L162.5 412.5 L162.8 412 L163.2 430.9 L163.6 403.7 L164 421.9 L164.4 407.3 L164.7 419.6 L165.1 413.9 L165.5 416.4 L165.9 409.7 L166.2 410.3 L166.6 410.4 L167 420.1 L167.4 412.6 L167.8 402.1 L168.1 420.5 L168.5 409.1 L168.9 399.4 L169.3 393.9 L169.7 402.4 L170 410.7 L170.4 411.5 L170.8 407.8 L171.2 404.3 L171.5 411.7 L171.9 411.3 L172.3 406.5 L172.7 408.4 L173.1 392.6 L173.4 402.8 L173.8 412 L174.2 418.6 L174.6 401.3 L175 393.9 L175.3 394.3 L175.7 417.7 L176.1 415.3 L176.5 397.3 L176.8 405.7 L177.2 395.4 L177.6 389.3 L178 393.6 L178.4 397 L178.7 409.6 L179.1 408.9 L179.5 413.5 L179.9 409.3 L180.3 392.1 L180.6 400.1 L181 406 L181.4 399 L181.8 410.4 L182.1 405.5 L182.5 408.4 L182.9 405.5 L183.3 400.9 L183.7 407.8 L184 405.1 L184.4 414.8 L184.8 421.1 L185.2 410.3 L185.6 414.8 L185.9 406.7 L186.3 398.6 L186.7 409.3 L187.1 404.3 L187.4 412.5 L187.8 407.8 L188.2 400.1 L188.6 405.6 L189 416.5 L189.3 400 L189.7 406.9 L190.1 412.9 L190.5 397.3 L190.9 407.6 L191.2 407.4 L191.6 418 L192 399.1 L192.4 406.8 L192.7 396.2 L193.1 403.2 L193.5 391.8 L193.9 397.6 L194.3 404 L194.6 400.3 L195 398.5 L195.4 405 L195.8 402.1 L196.2 424.5 L196.5 411 L196.9 409.8 L197.3 413.8 L197.7 410.4 L198 410.7 L198.4 422.3 L198.8 414 L199.2 406.1 L199.6 408.8 L199.9 411.1 L200.3 406.2 L200.7 409.2 L201.1 410.9 L201.5 401.4 L201.8 393 L202.2 392.4 L202.6 413.4 L203 414.4 L203.3 404.9 L203.7 396.3 L204.1 409.4 L204.5 411.7 L204.9 419.5 L205.2 395.9 L205.6 396.5 L206 399.7 L206.4 415.2 L206.8 409.3 L207.1 412.7 L207.5 413.7 L207.9 406.8 L208.3 413.6 L208.6 400.2 L209 399.3 L209.4 405.6 L209.8 398.9 L210.2 409.6 L210.5 415 L210.9 416.7 L211.3 399.8 L211.7 398 L212.1 420.2 L212.4 406.4 L212.8 405.2 L213.2 420.4 L213.6 398.4 L213.9 389.7 L214.3 400.8 L214.7 402.5 L215.1 414.4 L215.5 394.2 L215.8 415.4 L216.2 398.9 L216.6 401.2 L217 410 L217.4 397.2 L217.7 407.9 L218.1 402.8 L218.5 402 L218.9 405.5 L219.2 403.8 L219.6 410.8 L220 398 L220.4 404 L220.8 406 L221.1 407.7 L221.5 403.8 L221.9 399.3 L222.3 406.7 L222.7 400.8 L223 397 L223.4 395.6 L223.8 406.5 L224.2 413.4 L224.5 401.9 L224.9 401.7 L225.3 408.6 L225.7 405.7 L226.1 399.2 L226.4 399.3 L226.8 417.5 L227.2 408.6 L227.6 412 L228 404.1 L228.3 399.3 L228.7 412 L229.1 401 L229.5 398.3 L229.8 398.7 L230.2 414.6 L230.6 405.8 L231 385.6 L231.4 411.9 L231.7 394.7 L232.1 393.3 L232.5 410.4 L232.9 393.3 L233.3 401.8 L233.6 399.2 L234 393 L234.4 398.2 L234.8 397.7 L235.1 408.7 L235.5 395.5 L235.9 396.4 L236.3 412.9 L236.7 387.8 L237 397.3 L237.4 394.2 L237.8 390.3 L238.2 413.2 L238.6 398.3 L238.9 405.6 L239.3 402.2 L239.7 406.5 L240.1 405.5 L240.4 388.4 L240.8 398.1 L241.2 405.1 L241.6 411.6 L242 393.6 L242.3 399.7 L242.7 397 L243.1 383.4 L243.5 387.6 L243.9 403.7 L244.2 382.2 L244.6 395 L245 415.8 L245.4 393.8 L245.7 383.4 L246.1 391.1 L246.5 391.9 L246.9 404.5 L247.3 407.2 L247.6 391.5 L248 399.8 L248.4 399.6 L248.8 400.4 L249.2 408.1 L249.5 400.5 L249.9 399.4 L250.3 395 L250.7 400 L251 406 L251.4 401.3 L251.8 396.8 L252.2 398.4 L252.6 406.5 L252.9 411.6 L253.3 404.5 L253.7 401.6 L254.1 402.9 L254.5 394.6 L254.8 414.7 L255.2 396.5 L255.6 403.8 L256 399.5 L256.4 385 L256.7 377.2 L257.1 393.5 L257.5 404.9 L257.9 394.5 L258.2 399.2 L258.6 396 L259 406.3 L259.4 404.2 L259.8 408.3 L260.1 406.1 L260.5 411.8 L260.9 401.6 L261.3 390.5 L261.7 398.9 L262 390.3 L262.4 407.9 L262.8 393.3 L263.2 385.9 L263.5 421 L263.9 395 L264.3 390 L264.7 400.3 L265.1 401.4 L265.4 416.5 L265.8 400.2 L266.2 390.7 L266.6 370.3 L267 399.2 L267.3 372.4 L267.7 369.9 L268.1 404.1 L268.5 383.3 L268.8 368.6 L269.2 384.7 L269.6 400.7 L270 365.1 L270.4 397.3 L270.7 390 L271.1 370.1 L271.5 389.1 L271.9 370.9 L272.3 379.5 L272.6 378.5 L273 370 L273.4 363.4 L273.8 389.8 L274.1 383.2 L274.5 390.8 L274.9 380.9 L275.3 403.2 L275.7 379.2 L276 395.9 L276.4 391.9 L276.8 388.6 L277.2 400.4 L277.6 393.6 L277.9 378.7 L278.3 381.3 L278.7 378.9 L279.1 397.7 L279.4 382.6 L279.8 377.8 L280.2 366 L280.6 362.1 L281 378.4 L281.3 390.2 L281.7 372.9 L282.1 384.4 L282.5 384.9 L282.9 403.1 L283.2 398.9 L283.6 371.2 L284 383 L284.4 409.1 L284.7 400.8 L285.1 380.6 L285.5 376.2 L285.9 403.5 L286.3 386 L286.6 389.4 L287 386.2 L287.4 394.5 L287.8 399.4 L288.2 378.7 L288.5 379 L288.9 379.4 L289.3 382 L289.7 390.2 L290 382.5 L290.4 391.3 L290.8 374.5 L291.2 368 L291.6 371.9 L291.9 391.8 L292.3 379.5 L292.7 375.8 L293.1 392.9 L293.5 370.1 L293.8 381.8 L294.2 389 L294.6 374.7 L295 377.8 L295.3 373.9 L295.7 389.9 L296.1 383 L296.5 389.2 L296.9 377.4 L297.2 384.3 L297.6 381.8 L298 401.7 L298.4 387.1 L298.8 374.8 L299.1 397.5 L299.5 366.9 L299.9 394.9 L300.3 375.1 L300.6 385.9 L301 393.5 L301.4 367.6 L301.8 392 L302.2 393.7 L302.5 387.4 L302.9 383.9 L303.3 386.5 L303.7 395 L304.1 381.7 L304.4 388.1 L304.8 397.2 L305.2 388.5 L305.6 393.5 L305.9 385.1 L306.3 389.7 L306.7 365.6 L307.1 384.3 L307.5 358.6 L307.8 391 L308.2 381.3 L308.6 397.3 L309 384.9 L309.4 375.7 L309.7 373.5 L310.1 361.3 L310.5 368.2 L310.9 381.7 L311.2 390.6 L311.6 374.3 L312 385.6 L312.4 361.1 L312.8 376.3 L313.1 383.5 L313.5 363.9 L313.9 383.5 L314.3 387.6 L314.7 369.8 L315 367.6 L315.4 380.7 L315.8 370.1 L316.2 393.5 L316.5 367.1 L316.9 378.9 L317.3 387.2 L317.7 381.7 L318.1 385 L318.4 400.9 L318.8 384.7 L319.2 395.6 L319.6 386 L320 388.5 L320.3 373.8 L320.7 382.5 L321.1 381.1 L321.5 379.6 L321.8 368.6 L322.2 383.3 L322.6 365.7 L323 376.6 L323.4 385.3 L323.7 366.1 L324.1 362.8 L324.5 383.8 L324.9 390.5 L325.3 389.2 L325.6 379.1 L326 387.7 L326.4 375.1 L326.8 363.6 L327.1 383.1 L327.5 376.7 L327.9 391.9 L328.3 364.8 L328.7 377.5 L329 390 L329.4 377.9 L329.8 403.4 L330.2 376.6 L330.6 384.9 L330.9 368.6 L331.3 369.5 L331.7 375.8 L332.1 402.1 L332.4 359.9 L332.8 367.8 L333.2 400 L333.6 363.4 L334 368.1 L334.3 389.2 L334.7 389.6 L335.1 374.4 L335.5 389.2 L335.9 384.5 L336.2 367 L336.6 396.7 L337 375.7 L337.4 354 L337.7 376.4 L338.1 368.8 L338.5 373.8 L338.9 368.1 L339.3 379.9 L339.6 387.1 L340 397.5 L340.4 368.8 L340.8 381.6 L341.2 360.2 L341.5 396.8 L341.9 388.8 L342.3 418.4 L342.7 407.7 L343 413.5 L343.4 410.3 L343.8 427.9 L344.2 417.2 L344.6 412.3 L344.9 410.9 L345.3 406.6 L345.7 401 L346.1 413.8 L346.5 422 L346.8 405.6 L347.2 425.8 L347.6 406.8 L348 420.4 L348.4 423.6 L348.7 413.9 L349.1 420.3 L349.5 406.4 L349.9 406.5 L350.2 410 L350.6 416.6 L351 406.1 L351.4 410.5 L351.8 404.4 L352.1 422.7 L352.5 418.1 L352.9 412.7 L353.3 422.1 L353.7 417.7 L354 403.7 L354.4 410.1 L354.8 406.7 L355.2 405.3 L355.5 399.6 L355.9 413.5 L356.3 392.3 L356.7 411 L357.1 401.1 L357.4 395.6 L357.8 406 L358.2 403.8 L358.6 412.6 L359 416.7 L359.3 412.4 L359.7 398.7 L360.1 401.9 L360.5 393.4 L360.8 418 L361.2 420.4 L361.6 401.1 L362 416.8 L362.4 403.1 L362.7 394.6 L363.1 406.1 L363.5 405.4 L363.9 410.9 L364.3 407.4 L364.6 414.9 L365 417.8 L365.4 423.7 L365.8 411.2 L366.1 421.6 L366.5 410.3 L366.9 406.6" fill="none" stroke="#5058aa" stroke-width="0.62" stroke-linejoin="round"/>
<rect x="64.3" y="432.4" width="17.2" height="16" fill="#e4e4e4" stroke="#000" stroke-width="1.15"/>
<rect x="81.5" y="432.4" width="26.2" height="16" fill="#2e4b86" stroke="#000" stroke-width="1.15"/>
<rect x="107.7" y="432.4" width="25.5" height="16" fill="#e4e4e4" stroke="#000" stroke-width="1.15"/>
<rect x="154.8" y="432.4" width="12.9" height="16" fill="#ffffff" stroke="#000" stroke-width="1.15"/>
<rect x="167.7" y="432.4" width="47.9" height="16" fill="#c8c8c8" stroke="#000" stroke-width="1.15"/>
<rect x="215.6" y="432.4" width="18" height="16" fill="#ffffff" stroke="#000" stroke-width="1.15"/>
<rect x="233.6" y="432.4" width="29.7" height="16" fill="#808080" stroke="#000" stroke-width="1.15"/>
<rect x="263.3" y="432.4" width="27.4" height="16" fill="#ffffff" stroke="#000" stroke-width="1.15"/>
<rect x="290.7" y="432.4" width="12.1" height="16" fill="#c8c8c8" stroke="#000" stroke-width="1.15"/>
<rect x="302.8" y="432.4" width="12.1" height="16" fill="#ffffff" stroke="#000" stroke-width="1.15"/>
<rect x="314.9" y="432.4" width="18.7" height="16" fill="#c8c8c8" stroke="#000" stroke-width="1.15"/>
<rect x="333.6" y="432.4" width="35" height="16" fill="#ffffff" stroke="#000" stroke-width="1.15"/>
<path d="M133.2 432.4L147.7 440.4L133.2 448.4Z M154.8 432.4L147.7 440.4L154.8 448.4Z" fill="#b0102c" stroke="#000" stroke-width="1.1" stroke-linejoin="round"/>
<rect x="51.8" y="346.2" width="341" height="108.8" fill="none" stroke="#000" stroke-width="1.3"/>
<path d="M47 452H51.8M47 430.8H51.8M47 409.5H51.8M47 388.2H51.8M47 367H51.8M64.4 455V458.4M80.2 455V458.4M96 455V458.4M111.7 455V458.4M127.5 455V458.4M143.3 455V458.4M159.1 455V458.4M174.8 455V458.4M190.6 455V458.4M206.4 455V458.4M222.2 455V458.4M237.9 455V458.4M253.7 455V458.4M269.5 455V458.4M285.2 455V458.4M301 455V458.4M316.8 455V458.4M332.6 455V458.4M348.4 455V458.4M364.1 455V458.4M379.9 455V458.4" stroke="#000" stroke-width="1.1"/>
<text x="45.1" y="455" font-size="8.3" text-anchor="end" fill="#1a1a1a">0.6</text>
<text x="45.1" y="433.8" font-size="8.3" text-anchor="end" fill="#1a1a1a">0.8</text>
<text x="45.1" y="412.5" font-size="8.3" text-anchor="end" fill="#1a1a1a">1.0</text>
<text x="45.1" y="391.2" font-size="8.3" text-anchor="end" fill="#1a1a1a">1.2</text>
<text x="45.1" y="370" font-size="8.3" text-anchor="end" fill="#1a1a1a">1.4</text>
<text x="64.4" y="469" font-size="8.6" text-anchor="middle" fill="#111">0</text>
<text x="96" y="469" font-size="8.6" text-anchor="middle" fill="#111">5</text>
<text x="127.5" y="469" font-size="8.6" text-anchor="middle" fill="#111">10</text>
<text x="159.1" y="469" font-size="8.6" text-anchor="middle" fill="#111">15</text>
<text x="190.6" y="469" font-size="8.6" text-anchor="middle" fill="#111">20</text>
<text x="222.2" y="469" font-size="8.6" text-anchor="middle" fill="#111">25</text>
<text x="253.7" y="469" font-size="8.6" text-anchor="middle" fill="#111">30</text>
<text x="285.2" y="469" font-size="8.6" text-anchor="middle" fill="#111">35</text>
<text x="316.8" y="469" font-size="8.6" text-anchor="middle" fill="#111">40</text>
<text x="348.4" y="469" font-size="8.6" text-anchor="middle" fill="#111">45</text>
<text x="379.9" y="469" font-size="8.6" text-anchor="middle" fill="#111">50</text>
<text x="177.5" y="482.4" font-size="9.2" font-weight="bold" textLength="88.3" lengthAdjust="spacingAndGlyphs" fill="#1a1a1a">Chr21 genomic position (Mb)</text>
<text transform="translate(27.8 433.8) rotate(-90)" font-size="8.8" font-weight="bold" textLength="66" lengthAdjust="spacingAndGlyphs" fill="#1a1a1a">Normalized bin count</text>
<rect x="400.4" y="349.2" width="63" height="64.8" fill="#fff" stroke="#000" stroke-width="1.2"/>
<text x="432" y="360.7" font-size="7.6" text-anchor="middle" fill="#222">chr21q22</text>
<text x="432" y="370" font-size="7.6" text-anchor="middle" fill="#222">amplified region:</text>
<text x="432" y="379.3" font-size="7.6" text-anchor="middle" fill="#222" font-style="italic">RUNX1</text>
<text x="432" y="388.6" font-size="7.6" text-anchor="middle" fill="#222" font-style="italic">DYRK1A</text>
<text x="432" y="397.9" font-size="7.6" text-anchor="middle" fill="#222" font-style="italic">ERG</text>
<text x="432" y="407.2" font-size="7.6" text-anchor="middle" fill="#222" font-style="italic">HMGN1</text>
<line x1="395.8" y1="357.2" x2="350.8" y2="364.8" stroke="#000" stroke-width="1.3" marker-end="url(#ah)"/>
</svg></body></html>
